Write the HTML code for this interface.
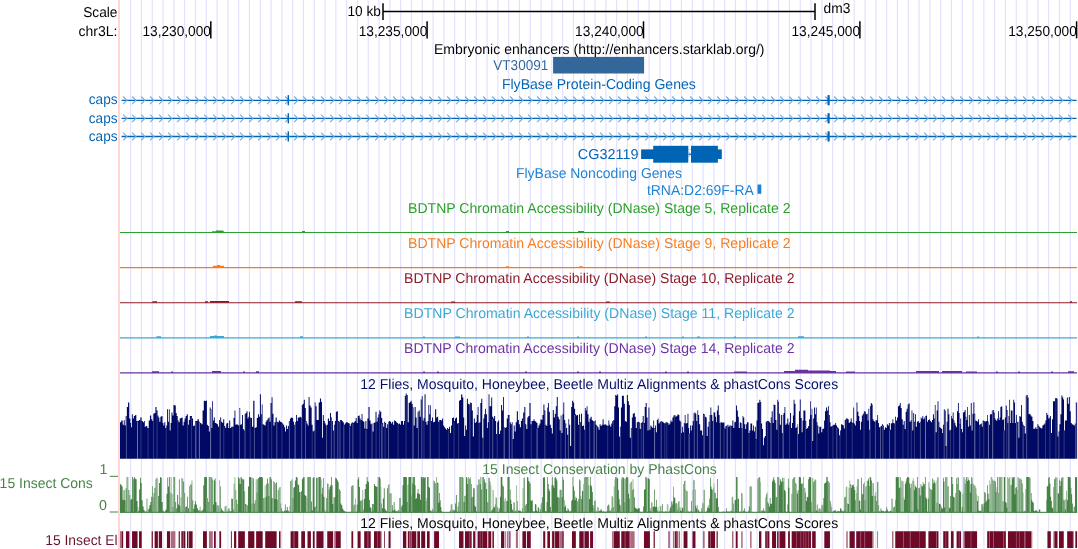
<!DOCTYPE html>
<html><head><meta charset="utf-8"><title>UCSC Genome Browser dm3 chr3L</title>
<style>html,body{margin:0;padding:0;background:#fff}svg{display:block}text{font-family:"Liberation Sans",sans-serif;font-size:14.3px}</style></head>
<body>
<svg width="1078" height="549" viewBox="0 0 1078 549">
<rect width="1078" height="549" fill="#fff"/>
<path d="M130.65 0V549M141.45 0V549M152.25 0V549M163.05 0V549M173.85 0V549M184.65 0V549M195.45 0V549M206.25 0V549M217.05 0V549M227.85 0V549M238.65 0V549M249.45 0V549M260.25 0V549M271.05 0V549M281.85 0V549M292.65 0V549M303.45 0V549M314.25 0V549M325.05 0V549M335.85 0V549M346.65 0V549M357.45 0V549M368.25 0V549M379.05 0V549M389.85 0V549M400.65 0V549M411.45 0V549M422.25 0V549M433.05 0V549M443.85 0V549M454.65 0V549M465.45 0V549M476.25 0V549M487.05 0V549M497.85 0V549M508.65 0V549M519.45 0V549M530.25 0V549M541.05 0V549M551.85 0V549M562.65 0V549M573.45 0V549M584.25 0V549M595.05 0V549M605.85 0V549M616.65 0V549M627.45 0V549M638.25 0V549M649.05 0V549M659.85 0V549M670.65 0V549M681.45 0V549M692.25 0V549M703.05 0V549M713.85 0V549M724.65 0V549M735.45 0V549M746.25 0V549M757.05 0V549M767.85 0V549M778.65 0V549M789.45 0V549M800.25 0V549M811.05 0V549M821.85 0V549M832.65 0V549M843.45 0V549M854.25 0V549M865.05 0V549M875.85 0V549M886.65 0V549M897.45 0V549M908.25 0V549M919.05 0V549M929.85 0V549M940.65 0V549M951.45 0V549M962.25 0V549M973.05 0V549M983.85 0V549M994.65 0V549M1005.45 0V549M1016.25 0V549M1027.05 0V549M1037.85 0V549M1048.65 0V549M1059.45 0V549M1070.25 0V549" stroke="#e2e2ff" stroke-width="1.2" fill="none"/>
<rect x="118" y="0" width="2" height="549" fill="#ffd5d5"/>
<path d="M383 3.2V20M815 3.2V20" stroke="#000" stroke-width="1.5" fill="none"/>
<path d="M383 11.4H815" stroke="#000" stroke-width="1.45" fill="none"/>
<path d="M210.8 21.3V38.4" stroke="#000" stroke-width="1.5" fill="none"/>
<path d="M427.1 21.3V38.4" stroke="#000" stroke-width="1.5" fill="none"/>
<path d="M643.5 21.3V38.4" stroke="#000" stroke-width="1.5" fill="none"/>
<path d="M859.9 21.3V38.4" stroke="#000" stroke-width="1.5" fill="none"/>
<path d="M1076.6 21.3V38.4" stroke="#000" stroke-width="1.5" fill="none"/>
<rect x="553.1" y="56.9" width="91" height="16.6" fill="#336699"/>
<path d="M121.6 100.3H1076.6" stroke="#0064b4" stroke-width="1.35" fill="none"/>
<path d="M123.15 96.50L126.85 100.30L123.15 104.10M132.15 96.50L135.85 100.30L132.15 104.10M141.15 96.50L144.85 100.30L141.15 104.10M150.15 96.50L153.85 100.30L150.15 104.10M159.15 96.50L162.85 100.30L159.15 104.10M168.15 96.50L171.85 100.30L168.15 104.10M177.15 96.50L180.85 100.30L177.15 104.10M186.15 96.50L189.85 100.30L186.15 104.10M195.15 96.50L198.85 100.30L195.15 104.10M204.15 96.50L207.85 100.30L204.15 104.10M213.15 96.50L216.85 100.30L213.15 104.10M222.15 96.50L225.85 100.30L222.15 104.10M231.15 96.50L234.85 100.30L231.15 104.10M240.15 96.50L243.85 100.30L240.15 104.10M249.15 96.50L252.85 100.30L249.15 104.10M258.15 96.50L261.85 100.30L258.15 104.10M267.15 96.50L270.85 100.30L267.15 104.10M276.15 96.50L279.85 100.30L276.15 104.10M285.15 96.50L288.85 100.30L285.15 104.10M294.15 96.50L297.85 100.30L294.15 104.10M303.15 96.50L306.85 100.30L303.15 104.10M312.15 96.50L315.85 100.30L312.15 104.10M321.15 96.50L324.85 100.30L321.15 104.10M330.15 96.50L333.85 100.30L330.15 104.10M339.15 96.50L342.85 100.30L339.15 104.10M348.15 96.50L351.85 100.30L348.15 104.10M357.15 96.50L360.85 100.30L357.15 104.10M366.15 96.50L369.85 100.30L366.15 104.10M375.15 96.50L378.85 100.30L375.15 104.10M384.15 96.50L387.85 100.30L384.15 104.10M393.15 96.50L396.85 100.30L393.15 104.10M402.15 96.50L405.85 100.30L402.15 104.10M411.15 96.50L414.85 100.30L411.15 104.10M420.15 96.50L423.85 100.30L420.15 104.10M429.15 96.50L432.85 100.30L429.15 104.10M438.15 96.50L441.85 100.30L438.15 104.10M447.15 96.50L450.85 100.30L447.15 104.10M456.15 96.50L459.85 100.30L456.15 104.10M465.15 96.50L468.85 100.30L465.15 104.10M474.15 96.50L477.85 100.30L474.15 104.10M483.15 96.50L486.85 100.30L483.15 104.10M492.15 96.50L495.85 100.30L492.15 104.10M501.15 96.50L504.85 100.30L501.15 104.10M510.15 96.50L513.85 100.30L510.15 104.10M519.15 96.50L522.85 100.30L519.15 104.10M528.15 96.50L531.85 100.30L528.15 104.10M537.15 96.50L540.85 100.30L537.15 104.10M546.15 96.50L549.85 100.30L546.15 104.10M555.15 96.50L558.85 100.30L555.15 104.10M564.15 96.50L567.85 100.30L564.15 104.10M573.15 96.50L576.85 100.30L573.15 104.10M582.15 96.50L585.85 100.30L582.15 104.10M591.15 96.50L594.85 100.30L591.15 104.10M600.15 96.50L603.85 100.30L600.15 104.10M609.15 96.50L612.85 100.30L609.15 104.10M618.15 96.50L621.85 100.30L618.15 104.10M627.15 96.50L630.85 100.30L627.15 104.10M636.15 96.50L639.85 100.30L636.15 104.10M645.15 96.50L648.85 100.30L645.15 104.10M654.15 96.50L657.85 100.30L654.15 104.10M663.15 96.50L666.85 100.30L663.15 104.10M672.15 96.50L675.85 100.30L672.15 104.10M681.15 96.50L684.85 100.30L681.15 104.10M690.15 96.50L693.85 100.30L690.15 104.10M699.15 96.50L702.85 100.30L699.15 104.10M708.15 96.50L711.85 100.30L708.15 104.10M717.15 96.50L720.85 100.30L717.15 104.10M726.15 96.50L729.85 100.30L726.15 104.10M735.15 96.50L738.85 100.30L735.15 104.10M744.15 96.50L747.85 100.30L744.15 104.10M753.15 96.50L756.85 100.30L753.15 104.10M762.15 96.50L765.85 100.30L762.15 104.10M771.15 96.50L774.85 100.30L771.15 104.10M780.15 96.50L783.85 100.30L780.15 104.10M789.15 96.50L792.85 100.30L789.15 104.10M798.15 96.50L801.85 100.30L798.15 104.10M807.15 96.50L810.85 100.30L807.15 104.10M816.15 96.50L819.85 100.30L816.15 104.10M825.15 96.50L828.85 100.30L825.15 104.10M834.15 96.50L837.85 100.30L834.15 104.10M843.15 96.50L846.85 100.30L843.15 104.10M852.15 96.50L855.85 100.30L852.15 104.10M861.15 96.50L864.85 100.30L861.15 104.10M870.15 96.50L873.85 100.30L870.15 104.10M879.15 96.50L882.85 100.30L879.15 104.10M888.15 96.50L891.85 100.30L888.15 104.10M897.15 96.50L900.85 100.30L897.15 104.10M906.15 96.50L909.85 100.30L906.15 104.10M915.15 96.50L918.85 100.30L915.15 104.10M924.15 96.50L927.85 100.30L924.15 104.10M933.15 96.50L936.85 100.30L933.15 104.10M942.15 96.50L945.85 100.30L942.15 104.10M951.15 96.50L954.85 100.30L951.15 104.10M960.15 96.50L963.85 100.30L960.15 104.10M969.15 96.50L972.85 100.30L969.15 104.10M978.15 96.50L981.85 100.30L978.15 104.10M987.15 96.50L990.85 100.30L987.15 104.10M996.15 96.50L999.85 100.30L996.15 104.10M1005.15 96.50L1008.85 100.30L1005.15 104.10M1014.15 96.50L1017.85 100.30L1014.15 104.10M1023.15 96.50L1026.85 100.30L1023.15 104.10M1032.15 96.50L1035.85 100.30L1032.15 104.10M1041.15 96.50L1044.85 100.30L1041.15 104.10M1050.15 96.50L1053.85 100.30L1050.15 104.10M1059.15 96.50L1062.85 100.30L1059.15 104.10M1068.15 96.50L1071.85 100.30L1068.15 104.10" stroke="#78abd9" stroke-width="1.15" fill="none"/>
<rect x="287.6" y="95.1" width="1.4" height="10.2" fill="#0064b4"/>
<rect x="827.5" y="95.1" width="2.2" height="10.2" fill="#0064b4"/>
<path d="M121.6 118.4H1076.6" stroke="#0064b4" stroke-width="1.35" fill="none"/>
<path d="M123.15 114.60L126.85 118.40L123.15 122.20M132.15 114.60L135.85 118.40L132.15 122.20M141.15 114.60L144.85 118.40L141.15 122.20M150.15 114.60L153.85 118.40L150.15 122.20M159.15 114.60L162.85 118.40L159.15 122.20M168.15 114.60L171.85 118.40L168.15 122.20M177.15 114.60L180.85 118.40L177.15 122.20M186.15 114.60L189.85 118.40L186.15 122.20M195.15 114.60L198.85 118.40L195.15 122.20M204.15 114.60L207.85 118.40L204.15 122.20M213.15 114.60L216.85 118.40L213.15 122.20M222.15 114.60L225.85 118.40L222.15 122.20M231.15 114.60L234.85 118.40L231.15 122.20M240.15 114.60L243.85 118.40L240.15 122.20M249.15 114.60L252.85 118.40L249.15 122.20M258.15 114.60L261.85 118.40L258.15 122.20M267.15 114.60L270.85 118.40L267.15 122.20M276.15 114.60L279.85 118.40L276.15 122.20M285.15 114.60L288.85 118.40L285.15 122.20M294.15 114.60L297.85 118.40L294.15 122.20M303.15 114.60L306.85 118.40L303.15 122.20M312.15 114.60L315.85 118.40L312.15 122.20M321.15 114.60L324.85 118.40L321.15 122.20M330.15 114.60L333.85 118.40L330.15 122.20M339.15 114.60L342.85 118.40L339.15 122.20M348.15 114.60L351.85 118.40L348.15 122.20M357.15 114.60L360.85 118.40L357.15 122.20M366.15 114.60L369.85 118.40L366.15 122.20M375.15 114.60L378.85 118.40L375.15 122.20M384.15 114.60L387.85 118.40L384.15 122.20M393.15 114.60L396.85 118.40L393.15 122.20M402.15 114.60L405.85 118.40L402.15 122.20M411.15 114.60L414.85 118.40L411.15 122.20M420.15 114.60L423.85 118.40L420.15 122.20M429.15 114.60L432.85 118.40L429.15 122.20M438.15 114.60L441.85 118.40L438.15 122.20M447.15 114.60L450.85 118.40L447.15 122.20M456.15 114.60L459.85 118.40L456.15 122.20M465.15 114.60L468.85 118.40L465.15 122.20M474.15 114.60L477.85 118.40L474.15 122.20M483.15 114.60L486.85 118.40L483.15 122.20M492.15 114.60L495.85 118.40L492.15 122.20M501.15 114.60L504.85 118.40L501.15 122.20M510.15 114.60L513.85 118.40L510.15 122.20M519.15 114.60L522.85 118.40L519.15 122.20M528.15 114.60L531.85 118.40L528.15 122.20M537.15 114.60L540.85 118.40L537.15 122.20M546.15 114.60L549.85 118.40L546.15 122.20M555.15 114.60L558.85 118.40L555.15 122.20M564.15 114.60L567.85 118.40L564.15 122.20M573.15 114.60L576.85 118.40L573.15 122.20M582.15 114.60L585.85 118.40L582.15 122.20M591.15 114.60L594.85 118.40L591.15 122.20M600.15 114.60L603.85 118.40L600.15 122.20M609.15 114.60L612.85 118.40L609.15 122.20M618.15 114.60L621.85 118.40L618.15 122.20M627.15 114.60L630.85 118.40L627.15 122.20M636.15 114.60L639.85 118.40L636.15 122.20M645.15 114.60L648.85 118.40L645.15 122.20M654.15 114.60L657.85 118.40L654.15 122.20M663.15 114.60L666.85 118.40L663.15 122.20M672.15 114.60L675.85 118.40L672.15 122.20M681.15 114.60L684.85 118.40L681.15 122.20M690.15 114.60L693.85 118.40L690.15 122.20M699.15 114.60L702.85 118.40L699.15 122.20M708.15 114.60L711.85 118.40L708.15 122.20M717.15 114.60L720.85 118.40L717.15 122.20M726.15 114.60L729.85 118.40L726.15 122.20M735.15 114.60L738.85 118.40L735.15 122.20M744.15 114.60L747.85 118.40L744.15 122.20M753.15 114.60L756.85 118.40L753.15 122.20M762.15 114.60L765.85 118.40L762.15 122.20M771.15 114.60L774.85 118.40L771.15 122.20M780.15 114.60L783.85 118.40L780.15 122.20M789.15 114.60L792.85 118.40L789.15 122.20M798.15 114.60L801.85 118.40L798.15 122.20M807.15 114.60L810.85 118.40L807.15 122.20M816.15 114.60L819.85 118.40L816.15 122.20M825.15 114.60L828.85 118.40L825.15 122.20M834.15 114.60L837.85 118.40L834.15 122.20M843.15 114.60L846.85 118.40L843.15 122.20M852.15 114.60L855.85 118.40L852.15 122.20M861.15 114.60L864.85 118.40L861.15 122.20M870.15 114.60L873.85 118.40L870.15 122.20M879.15 114.60L882.85 118.40L879.15 122.20M888.15 114.60L891.85 118.40L888.15 122.20M897.15 114.60L900.85 118.40L897.15 122.20M906.15 114.60L909.85 118.40L906.15 122.20M915.15 114.60L918.85 118.40L915.15 122.20M924.15 114.60L927.85 118.40L924.15 122.20M933.15 114.60L936.85 118.40L933.15 122.20M942.15 114.60L945.85 118.40L942.15 122.20M951.15 114.60L954.85 118.40L951.15 122.20M960.15 114.60L963.85 118.40L960.15 122.20M969.15 114.60L972.85 118.40L969.15 122.20M978.15 114.60L981.85 118.40L978.15 122.20M987.15 114.60L990.85 118.40L987.15 122.20M996.15 114.60L999.85 118.40L996.15 122.20M1005.15 114.60L1008.85 118.40L1005.15 122.20M1014.15 114.60L1017.85 118.40L1014.15 122.20M1023.15 114.60L1026.85 118.40L1023.15 122.20M1032.15 114.60L1035.85 118.40L1032.15 122.20M1041.15 114.60L1044.85 118.40L1041.15 122.20M1050.15 114.60L1053.85 118.40L1050.15 122.20M1059.15 114.60L1062.85 118.40L1059.15 122.20M1068.15 114.60L1071.85 118.40L1068.15 122.20" stroke="#78abd9" stroke-width="1.15" fill="none"/>
<rect x="287.6" y="113.2" width="1.4" height="10.2" fill="#0064b4"/>
<rect x="827.5" y="113.2" width="2.2" height="10.2" fill="#0064b4"/>
<path d="M121.6 136.5H1076.6" stroke="#0064b4" stroke-width="1.35" fill="none"/>
<path d="M123.15 132.70L126.85 136.50L123.15 140.30M132.15 132.70L135.85 136.50L132.15 140.30M141.15 132.70L144.85 136.50L141.15 140.30M150.15 132.70L153.85 136.50L150.15 140.30M159.15 132.70L162.85 136.50L159.15 140.30M168.15 132.70L171.85 136.50L168.15 140.30M177.15 132.70L180.85 136.50L177.15 140.30M186.15 132.70L189.85 136.50L186.15 140.30M195.15 132.70L198.85 136.50L195.15 140.30M204.15 132.70L207.85 136.50L204.15 140.30M213.15 132.70L216.85 136.50L213.15 140.30M222.15 132.70L225.85 136.50L222.15 140.30M231.15 132.70L234.85 136.50L231.15 140.30M240.15 132.70L243.85 136.50L240.15 140.30M249.15 132.70L252.85 136.50L249.15 140.30M258.15 132.70L261.85 136.50L258.15 140.30M267.15 132.70L270.85 136.50L267.15 140.30M276.15 132.70L279.85 136.50L276.15 140.30M285.15 132.70L288.85 136.50L285.15 140.30M294.15 132.70L297.85 136.50L294.15 140.30M303.15 132.70L306.85 136.50L303.15 140.30M312.15 132.70L315.85 136.50L312.15 140.30M321.15 132.70L324.85 136.50L321.15 140.30M330.15 132.70L333.85 136.50L330.15 140.30M339.15 132.70L342.85 136.50L339.15 140.30M348.15 132.70L351.85 136.50L348.15 140.30M357.15 132.70L360.85 136.50L357.15 140.30M366.15 132.70L369.85 136.50L366.15 140.30M375.15 132.70L378.85 136.50L375.15 140.30M384.15 132.70L387.85 136.50L384.15 140.30M393.15 132.70L396.85 136.50L393.15 140.30M402.15 132.70L405.85 136.50L402.15 140.30M411.15 132.70L414.85 136.50L411.15 140.30M420.15 132.70L423.85 136.50L420.15 140.30M429.15 132.70L432.85 136.50L429.15 140.30M438.15 132.70L441.85 136.50L438.15 140.30M447.15 132.70L450.85 136.50L447.15 140.30M456.15 132.70L459.85 136.50L456.15 140.30M465.15 132.70L468.85 136.50L465.15 140.30M474.15 132.70L477.85 136.50L474.15 140.30M483.15 132.70L486.85 136.50L483.15 140.30M492.15 132.70L495.85 136.50L492.15 140.30M501.15 132.70L504.85 136.50L501.15 140.30M510.15 132.70L513.85 136.50L510.15 140.30M519.15 132.70L522.85 136.50L519.15 140.30M528.15 132.70L531.85 136.50L528.15 140.30M537.15 132.70L540.85 136.50L537.15 140.30M546.15 132.70L549.85 136.50L546.15 140.30M555.15 132.70L558.85 136.50L555.15 140.30M564.15 132.70L567.85 136.50L564.15 140.30M573.15 132.70L576.85 136.50L573.15 140.30M582.15 132.70L585.85 136.50L582.15 140.30M591.15 132.70L594.85 136.50L591.15 140.30M600.15 132.70L603.85 136.50L600.15 140.30M609.15 132.70L612.85 136.50L609.15 140.30M618.15 132.70L621.85 136.50L618.15 140.30M627.15 132.70L630.85 136.50L627.15 140.30M636.15 132.70L639.85 136.50L636.15 140.30M645.15 132.70L648.85 136.50L645.15 140.30M654.15 132.70L657.85 136.50L654.15 140.30M663.15 132.70L666.85 136.50L663.15 140.30M672.15 132.70L675.85 136.50L672.15 140.30M681.15 132.70L684.85 136.50L681.15 140.30M690.15 132.70L693.85 136.50L690.15 140.30M699.15 132.70L702.85 136.50L699.15 140.30M708.15 132.70L711.85 136.50L708.15 140.30M717.15 132.70L720.85 136.50L717.15 140.30M726.15 132.70L729.85 136.50L726.15 140.30M735.15 132.70L738.85 136.50L735.15 140.30M744.15 132.70L747.85 136.50L744.15 140.30M753.15 132.70L756.85 136.50L753.15 140.30M762.15 132.70L765.85 136.50L762.15 140.30M771.15 132.70L774.85 136.50L771.15 140.30M780.15 132.70L783.85 136.50L780.15 140.30M789.15 132.70L792.85 136.50L789.15 140.30M798.15 132.70L801.85 136.50L798.15 140.30M807.15 132.70L810.85 136.50L807.15 140.30M816.15 132.70L819.85 136.50L816.15 140.30M825.15 132.70L828.85 136.50L825.15 140.30M834.15 132.70L837.85 136.50L834.15 140.30M843.15 132.70L846.85 136.50L843.15 140.30M852.15 132.70L855.85 136.50L852.15 140.30M861.15 132.70L864.85 136.50L861.15 140.30M870.15 132.70L873.85 136.50L870.15 140.30M879.15 132.70L882.85 136.50L879.15 140.30M888.15 132.70L891.85 136.50L888.15 140.30M897.15 132.70L900.85 136.50L897.15 140.30M906.15 132.70L909.85 136.50L906.15 140.30M915.15 132.70L918.85 136.50L915.15 140.30M924.15 132.70L927.85 136.50L924.15 140.30M933.15 132.70L936.85 136.50L933.15 140.30M942.15 132.70L945.85 136.50L942.15 140.30M951.15 132.70L954.85 136.50L951.15 140.30M960.15 132.70L963.85 136.50L960.15 140.30M969.15 132.70L972.85 136.50L969.15 140.30M978.15 132.70L981.85 136.50L978.15 140.30M987.15 132.70L990.85 136.50L987.15 140.30M996.15 132.70L999.85 136.50L996.15 140.30M1005.15 132.70L1008.85 136.50L1005.15 140.30M1014.15 132.70L1017.85 136.50L1014.15 140.30M1023.15 132.70L1026.85 136.50L1023.15 140.30M1032.15 132.70L1035.85 136.50L1032.15 140.30M1041.15 132.70L1044.85 136.50L1041.15 140.30M1050.15 132.70L1053.85 136.50L1050.15 140.30M1059.15 132.70L1062.85 136.50L1059.15 140.30M1068.15 132.70L1071.85 136.50L1068.15 140.30" stroke="#78abd9" stroke-width="1.15" fill="none"/>
<rect x="287.6" y="131.3" width="1.4" height="10.2" fill="#0064b4"/>
<rect x="827.5" y="131.3" width="2.2" height="10.2" fill="#0064b4"/>
<rect x="641.1" y="149.4" width="80.7" height="9.6" fill="#0064b4"/>
<rect x="653.2" y="145.8" width="35.1" height="16.9" fill="#0064b4"/>
<rect x="691" y="145.8" width="26.9" height="16.9" fill="#0064b4"/>
<rect x="688.3" y="149.4" width="2.7" height="9.6" fill="#fff"/>
<path d="M688.3 154.3H691" stroke="#0064b4" stroke-width="1.2"/>
<path d="M688.4 151.5L690.6 154.3L688.4 157.1" stroke="#0064b4" stroke-opacity="0.5" stroke-width="0.9" fill="none"/>
<rect x="757.5" y="184.5" width="3.8" height="9.3" fill="#1e82d2"/>
<path d="M120 232.5H1077" stroke="#2ca02c" stroke-width="1.15" fill="none"/>
<path d="M212 232.5V231.3H224V232.5ZM216 232.5V230.5H223.2V232.5ZM302 232.5V231.0H305V232.5ZM506 232.5V231.0H509V232.5ZM578 232.5V231.0H584V232.5Z" fill="#2ca02c"/>
<path d="M120 267.6H1077" stroke="#f97c1c" stroke-width="1.15" fill="none"/>
<path d="M213 267.6V265.70000000000005H224V267.6ZM217 267.6V265.1H220V267.6ZM506 267.6V266.3H509V267.6ZM579 267.6V266.3H583V267.6Z" fill="#f97c1c"/>
<path d="M120 302.7H1077" stroke="#8c1a26" stroke-width="1.15" fill="none"/>
<path d="M152.4 302.7V301.2H157V302.7ZM205 302.7V301.2H208V302.7ZM210 302.7V301.0H229V302.7ZM295 302.7V301.2H302V302.7ZM451 302.7V301.4H455V302.7ZM606 302.7V301.4H610V302.7ZM1070 302.7V301.2H1072V302.7Z" fill="#8c1a26"/>
<path d="M120 337.9H1077" stroke="#3aa8d2" stroke-width="1.15" fill="none"/>
<path d="M156.4 337.9V336.2H161V337.9ZM210 337.9V336.09999999999997H224V337.9ZM214 337.9V335.4H217V337.9ZM300 337.9V336.2H303V337.9ZM423 337.9V336.59999999999997H425V337.9ZM455 337.9V336.4H460V337.9ZM527 337.9V336.59999999999997H529V337.9ZM577 337.9V336.59999999999997H579V337.9ZM645 337.9V336.59999999999997H647V337.9ZM682 337.9V336.59999999999997H684V337.9ZM697 337.9V336.4H700V337.9ZM734 337.9V336.59999999999997H736V337.9ZM798 337.9V336.2H804V337.9ZM977 337.9V336.4H979V337.9Z" fill="#3aa8d2"/>
<path d="M120 372.9H1077" stroke="#6a32a0" stroke-width="1.15" fill="none"/>
<path d="M152 372.9V371.2H159V372.9ZM171 372.9V371.4H173V372.9ZM212 372.9V370.9H221V372.9ZM243 372.9V371.4H245V372.9ZM256 372.9V371.2H259V372.9ZM423 372.9V371.59999999999997H425V372.9ZM437 372.9V371.59999999999997H439V372.9ZM525 372.9V371.59999999999997H527V372.9ZM577 372.9V371.59999999999997H579V372.9ZM599 372.9V371.59999999999997H601V372.9ZM665 372.9V371.59999999999997H667V372.9ZM687 372.9V371.59999999999997H689V372.9ZM734 372.9V371.4H747V372.9ZM784 372.9V370.9H836V372.9ZM795 372.9V369.79999999999995H808V372.9ZM808 372.9V370.4H830V372.9ZM846 372.9V371.4H855V372.9ZM916 372.9V371.0H939V372.9ZM942 372.9V371.0H962V372.9ZM966 372.9V371.4H977V372.9ZM996 372.9V371.4H998V372.9ZM1018 372.9V371.4H1020V372.9ZM1051 372.9V371.4H1053V372.9ZM1068 372.9V371.2H1074V372.9Z" fill="#6a32a0"/>
<path d="M120.00 458.85V422.3H121.17V420.5H122.71V424.8H123.77V420.2H124.70V425.4H125.69V416.1H126.80V406.9H128.04V402.5H129.28V418.6H130.33V423.0H131.07V427.3H131.88V414.3H132.80V418.6H133.86V416.1H135.10V414.9H136.33V421.1H137.57V421.1H138.81V419.9H140.23V417.4H141.66V421.1H142.90V422.3H143.95V421.1H144.81V426.7H145.87V426.0H147.29V427.9H148.71V420.5H149.95V415.5H151.19V419.2H152.24V421.1H153.17V413.7H154.29V413.0H155.40V406.9H156.51V410.6H157.57V415.5H158.43V417.4H159.36V421.7H160.35V416.8H161.47V416.1H162.52V423.0H163.39V425.4H164.31V422.3H165.30V427.9H166.23V425.4H167.10V409.3H168.03V421.7H168.89V409.3H169.70V430.4H170.57V423.0H171.49V412.4H172.49V415.5H173.48V405.0H174.65V405.6H175.77V413.0H176.69V416.1H177.69V420.5H178.68V422.3H179.67V418.6H180.66V418.0H181.65V417.4H182.64V425.4H183.63V421.7H184.62V418.6H185.61V416.1H186.72V414.3H187.84V424.8H188.83V419.9H189.82V416.1H190.93V416.1H192.05V418.6H193.04V426.0H194.03V425.4H195.02V421.1H196.13V421.1H197.49V419.2H198.86V421.7H200.09V423.0H201.33V424.2H202.57V410.6H203.81V400.7H205.05V400.9H206.04V400.4H206.90V424.8H207.89V426.0H208.88V431.6H209.75V407.5H210.62V409.3H211.48V427.9H212.23V401.3H213.03V420.5H213.90V417.4H214.83V423.0H215.94V423.6H217.06V424.2H218.05V426.7H219.04V419.9H220.03V417.4H221.14V421.7H222.26V423.0H223.18V419.2H224.24V426.0H225.29V427.9H226.22V423.6H227.21V423.0H228.20V427.9H229.19V420.5H230.18V427.9H231.17V426.7H232.28V426.7H233.52V418.0H234.51V410.6H235.38V424.8H236.37V424.2H237.36V424.8H238.35V425.4H239.28V408.1H240.21V424.8H241.14V424.2H242.00V414.9H242.93V429.1H243.86V430.4H244.67V414.3H245.53V413.0H246.52V411.2H247.51V418.6H248.38V416.8H249.06V411.8H249.93V417.4H250.98V418.0H251.97V426.7H253.21V400.7H254.45V427.9H255.56V427.3H256.80V418.0H257.91V414.3H258.90V416.8H259.90V394.2H260.89V414.3H261.75V404.4H262.62V424.2H263.61V424.8H264.60V425.4H265.59V421.7H266.58V419.9H267.63V418.6H268.69V417.4H269.61V421.7H270.54V403.1H271.53V397.2H272.52V413.7H273.51V425.4H274.50V422.3H275.62V417.4H276.73V421.7H277.72V422.3H278.84V420.5H280.01V421.7H281.07V422.3H282.12V423.6H283.17V424.8H284.16V427.3H285.09V431.6H285.96V425.4H286.89V429.1H287.88V426.0H288.87V421.1H289.92V418.6H291.09V417.4H292.21V418.0H293.14V421.7H294.07V424.8H295.06V422.3H295.99V414.9H296.85V421.1H297.78V417.4H298.77V417.4H299.76V416.8H300.75V417.4H301.74V405.0H302.73V403.8H303.79V399.7H304.84V408.1H305.77V421.1H306.69V423.6H307.69V425.4H308.61V397.0H309.54V405.6H310.59V407.5H311.65V424.8H312.64V431.6H313.63V430.4H314.62V402.5H315.61V406.2H316.60V419.9H317.59V419.9H318.70V402.5H319.94V398.4H321.06V401.9H321.99V437.8H322.85V414.9H323.78V421.1H324.77V423.6H325.76V425.4H326.75V424.8H327.87V418.6H328.98V421.1H329.97V413.0H330.96V417.4H331.95V421.1H332.94V430.4H333.93V424.8H334.92V421.1H335.91V411.8H336.90V411.2H337.89V421.1H338.88V421.7H339.88V419.9H340.87V419.9H341.86V421.1H342.85V422.3H343.84V424.8H344.83V423.6H345.82V422.3H346.81V422.3H347.80V423.0H348.79V423.6H349.78V426.0H350.77V423.6H351.76V422.3H352.75V423.0H353.74V422.3H354.73V421.1H355.72V418.0H356.71V423.0H357.70V416.1H358.69V415.5H359.68V418.6H360.68V419.9H361.60V414.0H362.47V421.1H363.40V421.7H364.39V428.5H365.38V421.1H366.37V429.1H367.36V418.6H368.48V406.9H369.59V420.5H370.58V424.2H371.57V423.6H372.56V431.6H373.55V423.0H374.54V422.3H375.53V411.8H376.52V421.7H377.51V417.4H378.38V414.3H379.19V410.6H380.18V411.8H381.23V418.0H382.22V423.0H383.21V426.7H384.20V421.7H385.19V423.0H386.18V427.9H387.17V424.2H388.16V421.7H389.15V421.1H390.14V421.7H391.13V423.6H392.12V421.7H393.11V424.8H394.10V420.5H395.10V421.1H396.09V422.3H397.08V423.0H398.07V424.2H399.06V423.6H400.05V424.8H401.04V421.1H402.03V421.1H403.02V424.8H403.95V421.1H404.81V395.7H405.74V393.5H406.73V395.1H407.72V422.3H408.71V403.1H409.70V401.9H410.69V400.7H411.69V403.8H412.68V407.5H413.67V425.4H414.66V406.9H415.65V417.4H416.64V427.9H417.63V411.8H418.68V410.6H419.73V416.8H420.72V399.4H421.71V396.3H422.70V420.5H423.63V418.0H424.56V394.2H425.55V421.7H426.54V424.8H427.53V421.1H428.40V405.0H429.27V414.3H430.13V405.6H431.00V421.1H431.99V417.4H432.98V422.3H433.97V421.7H435.09V409.3H436.20V417.4H437.19V416.8H438.18V421.7H439.17V419.9H440.16V419.9H441.15V420.5H442.14V418.6H443.13V425.4H444.12V427.3H445.11V428.5H446.10V429.8H447.09V427.9H448.09V429.1H449.08V426.7H450.07V432.9H451.06V425.4H452.05V418.0H453.04V417.4H454.03V421.1H455.02V418.6H456.01V417.4H457.00V423.6H457.99V423.0H458.98V400.7H459.97V400.0H461.08V394.5H462.32V397.6H463.31V417.4H464.18V436.0H465.17V425.4H466.04V429.8H466.90V398.8H467.89V403.8H468.88V404.4H469.88V402.5H470.87V403.1H471.86V410.6H472.85V436.6H473.84V418.6H474.83V423.0H475.82V421.7H476.81V414.9H477.68V406.9H478.54V423.0H479.47V422.3H480.34V403.1H481.27V398.8H482.26V437.8H483.25V418.6H484.24V414.3H485.10V408.7H485.97V414.3H486.96V427.9H487.83V422.3H488.57V394.2H489.44V406.2H490.37V406.2H491.23V397.6H492.16V416.8H493.15V418.6H494.14V416.1H495.13V421.1H496.12V434.1H497.11V422.3H498.10V420.5H499.09V434.1H500.08V430.4H501.08V405.0H502.07V410.6H502.99V397.0H503.86V427.3H504.79V427.9H505.78V427.3H506.77V418.6H507.76V414.9H508.81V414.9H509.80V422.3H510.73V424.2H511.72V422.3H512.71V439.0H513.70V425.4H514.70V431.6H515.69V422.3H516.80V411.2H517.91V419.9H518.90V424.2H519.90V427.3H520.89V421.1H521.88V418.6H522.99V412.4H524.23V406.9H525.34V424.2H526.33V429.1H527.32V417.4H528.31V416.1H529.43V403.1H530.54V424.2H531.53V421.1H532.52V421.1H533.51V419.2H534.50V421.1H535.49V421.7H536.49V423.0H537.48V427.9H538.47V425.4H539.46V423.6H540.45V419.2H541.44V419.9H542.43V414.9H543.42V404.4H544.41V410.6H545.40V424.8H546.39V426.0H547.26V407.5H548.00V403.1H548.87V411.8H549.86V424.8H550.85V427.9H551.84V433.5H552.83V410.0H553.82V417.4H554.81V413.7H555.80V406.2H556.79V397.0H557.78V416.8H558.77V419.2H559.76V430.4H560.63V415.5H561.49V432.9H562.49V414.3H563.35V402.5H564.22V419.9H565.21V423.6H566.20V427.9H567.19V434.7H568.18V419.2H569.17V424.8H570.16V445.9H571.15V406.9H572.14V400.7H573.13V402.5H574.12V408.7H575.11V414.3H576.10V415.5H577.09V414.9H578.09V424.8H579.08V414.3H580.07V422.3H581.06V413.7H582.05V426.0H583.04V425.4H584.03V429.8H584.89V408.1H585.76V410.6H586.63V406.2H587.49V414.3H588.48V421.7H589.48V418.6H590.59V416.8H591.70V419.9H592.69V421.1H593.68V421.7H594.68V420.5H595.67V424.8H596.66V426.0H597.65V427.3H598.64V429.8H599.63V424.2H600.62V426.0H601.61V424.8H602.60V419.2H603.59V424.8H604.58V424.2H605.57V424.8H606.56V425.4H607.55V426.0H608.42V420.5H609.28V424.8H610.28V426.7H611.27V423.6H612.26V421.1H613.25V419.9H614.24V406.2H615.23V395.1H616.22V395.7H617.21V394.2H618.14V407.5H619.00V436.6H619.93V426.7H620.92V407.5H621.91V395.7H622.90V395.7H623.89V403.8H624.88V421.1H625.88V421.7H626.87V395.1H627.86V401.3H628.85V405.0H629.84V437.8H630.83V427.9H631.82V417.4H632.81V413.7H633.80V413.0H634.79V416.8H635.78V427.9H636.77V422.3H637.76V421.7H638.81V422.3H639.80V429.1H640.73V423.0H641.72V422.3H642.71V416.1H643.70V423.0H644.70V406.9H645.69V403.1H646.68V417.4H647.60V430.4H648.47V407.5H649.40V429.8H650.39V425.4H651.38V426.7H652.37V427.9H653.24V420.5H654.10V427.9H655.10V425.4H655.96V432.2H656.83V419.9H657.70V418.6H658.56V423.6H659.55V422.3H660.54V421.1H661.53V421.7H662.52V421.7H663.51V423.0H664.50V423.6H665.49V422.3H666.49V422.3H667.48V423.0H668.47V424.8H669.46V423.6H670.45V420.5H671.44V421.7H672.43V417.4H673.42V415.5H674.41V414.9H675.40V416.8H676.39V416.1H677.38V414.3H678.37V414.9H679.36V420.5H680.35V421.7H681.22V432.9H681.96V426.7H682.83V432.2H683.82V423.0H684.69V414.9H685.55V423.6H686.54V423.0H687.53V413.7H688.40V427.9H689.14V433.5H690.01V425.4H690.88V430.4H691.74V425.4H692.73V421.1H693.60V413.0H694.47V412.4H695.46V413.7H696.32V421.1H697.19V410.6H698.18V414.9H699.17V424.2H700.16V430.4H701.15V430.4H702.14V435.3H703.01V413.7H703.88V414.3H704.87V416.8H705.86V417.4H706.72V436.0H707.59V426.7H708.58V421.7H709.45V414.9H710.31V407.5H711.30V414.9H712.29V421.1H713.29V412.4H714.28V412.4H715.27V416.8H716.13V422.3H716.88V410.6H717.74V405.6H718.73V414.9H719.60V423.0H720.47V422.3H721.46V422.3H722.45V423.0H723.44V422.3H724.43V428.5H725.42V426.0H726.41V425.4H727.40V424.8H728.39V426.7H729.38V425.4H730.37V425.4H731.36V426.0H732.35V420.5H733.34V427.9H734.33V422.3H735.20V421.7H736.00V405.6H736.93V410.6H737.86V416.8H738.79V427.9H739.78V422.3H740.77V423.0H741.64V427.9H742.38V416.1H743.25V417.4H744.24V424.2H745.23V429.1H746.09V424.2H746.96V422.3H747.83V422.3H748.57V432.9H749.44V430.4H750.43V423.6H751.29V423.6H752.16V430.4H753.15V425.4H754.02V431.6H754.88V426.7H755.75V439.0H756.49V420.5H757.36V403.1H758.35V402.5H759.34V399.7H760.33V401.9H761.20V423.6H762.07V429.1H762.99V445.2H763.86V437.8H764.79V436.0H765.78V421.7H766.77V421.1H767.76V421.1H768.81V421.7H769.80V423.0H770.73V417.4H771.72V411.2H772.71V423.0H773.58V404.4H774.45V405.0H775.44V419.9H776.43V429.8H777.30V399.7H778.16V401.9H779.03V413.7H779.90V424.8H780.89V414.9H781.88V432.9H782.74V414.9H783.61V413.0H784.48V406.9H785.34V424.8H786.33V423.6H787.32V418.6H788.31V424.8H789.18V422.3H790.05V413.0H791.04V427.9H792.03V423.0H792.90V415.5H793.64V399.7H794.50V403.8H795.49V427.9H796.49V426.7H797.35V424.2H798.09V434.1H798.96V411.2H799.83V399.4H800.69V418.0H801.69V432.2H802.55V420.5H803.42V410.6H804.41V410.6H805.40V421.1H806.27V429.1H807.13V427.9H808.12V426.0H809.11V419.2H809.98V401.3H810.72V414.9H811.53V408.7H812.33V440.9H813.14V418.6H814.07V407.5H814.99V414.3H815.86V407.5H816.67V422.3H817.47V425.4H818.34V433.5H819.27V426.7H820.26V426.7H821.25V432.2H822.24V429.1H823.23V428.5H824.09V420.5H824.96V411.2H825.95V407.5H826.94V410.6H827.93V406.2H828.92V414.9H829.79V422.3H830.53V426.7H831.40V426.0H832.39V425.4H833.38V424.8H834.37V424.8H835.24V423.0H836.10V425.4H837.09V427.3H838.09V428.5H839.08V435.3H840.07V430.4H841.06V424.2H842.05V424.8H843.04V425.4H843.90V428.5H844.77V419.9H845.76V418.6H846.75V418.6H847.74V419.2H848.73V423.0H849.72V421.7H850.71V418.6H851.70V422.3H852.57V423.0H853.31V407.5H854.06V423.6H854.92V425.4H855.79V421.1H856.53V402.5H857.40V411.8H858.39V416.1H859.26V421.1H860.00V429.8H860.87V421.7H861.86V415.5H862.85V413.7H863.84V411.2H864.83V411.8H865.82V414.3H866.81V413.7H867.68V420.5H868.42V408.7H869.16V429.8H869.90V406.2H870.77V403.1H871.76V404.4H872.63V419.2H873.49V421.1H874.48V421.7H875.48V420.5H876.47V419.9H877.33V414.9H878.08V423.0H878.94V427.3H879.93V426.7H880.92V426.0H881.91V424.2H882.90V425.4H883.89V429.8H884.88V427.3H885.88V427.9H886.87V424.2H887.86V425.4H888.85V423.0H889.84V429.8H890.83V423.6H891.69V423.0H892.44V419.2H893.30V423.0H894.17V423.6H895.04V416.8H896.03V420.5H897.02V417.4H898.01V406.2H898.94V405.6H899.80V403.1H900.73V408.1H901.72V419.2H902.71V424.8H903.70V421.1H904.70V429.1H905.69V411.8H906.68V408.7H907.67V404.4H908.66V403.4H909.65V421.7H910.64V420.5H911.50V410.6H912.37V430.4H913.24V413.0H914.10V421.7H914.97V414.3H915.84V426.7H916.83V421.7H917.82V421.1H918.81V423.0H919.80V421.7H920.67V417.4H921.53V418.6H922.40V416.1H923.27V419.2H924.26V417.4H925.25V416.1H926.11V415.5H926.98V421.7H927.97V419.9H928.96V419.2H929.95V421.1H930.94V422.3H931.93V419.9H932.92V414.3H933.91V418.6H934.78V405.0H935.65V432.2H936.64V410.6H937.57V401.3H938.43V421.7H939.36V427.3H940.35V427.9H941.34V429.1H942.21V432.9H942.95V424.8H943.82V409.3H944.81V410.6H945.68V445.9H946.54V421.7H947.53V408.7H948.52V414.3H949.39V430.4H950.26V429.8H951.12V416.1H951.87V418.6H952.73V412.4H953.60V420.5H954.47V423.0H955.33V425.4H956.14V427.3H957.00V411.2H957.93V403.1H958.80V413.0H959.54V424.2H960.29V418.6H961.15V429.1H962.14V432.2H963.01V412.4H963.88V411.8H964.74V410.0H965.61V416.8H966.48V419.9H967.22V406.9H967.96V426.7H968.83V414.9H969.82V425.4H970.81V403.1H971.68V430.4H972.48V413.7H973.41V402.2H974.34V413.7H975.27V420.5H976.26V421.1H977.25V421.7H978.11V419.2H978.98V424.8H979.97V424.2H980.96V423.6H981.83V426.7H982.69V420.5H983.68V421.1H984.68V421.7H985.67V421.1H986.53V421.1H987.28V414.9H988.02V421.7H988.88V424.8H989.88V414.3H990.87V414.3H991.86V410.6H992.85V410.0H993.84V412.4H994.70V418.6H995.57V419.9H996.44V421.1H997.18V418.6H997.98V411.2H998.85V419.9H999.66V417.4H1000.40V406.9H1001.27V406.2H1002.26V419.9H1003.25V419.2H1004.11V430.4H1004.86V417.4H1005.72V405.6H1006.71V410.0H1007.58V423.0H1008.32V416.1H1009.19V399.7H1010.06V423.0H1010.80V410.6H1011.67V410.6H1012.53V423.0H1013.28V399.7H1014.14V402.5H1015.01V423.0H1015.88V414.9H1016.80V422.3H1017.67V421.7H1018.48V437.8H1019.34V416.1H1020.21V416.8H1021.08V405.0H1021.94V421.7H1022.81V424.8H1023.80V426.0H1024.79V433.5H1025.78V395.5H1026.77V395.1H1027.76V397.6H1028.61V414.3H1029.47V413.7H1030.46V415.5H1031.45V416.8H1032.44V421.1H1033.43V429.1H1034.42V428.5H1035.41V427.3H1036.40V429.1H1037.39V424.2H1038.38V426.0H1039.37V427.3H1040.36V427.9H1041.35V428.5H1042.34V425.4H1043.33V424.8H1044.32V423.6H1045.31V420.5H1046.30V413.0H1047.29V414.9H1048.28V418.6H1049.28V417.4H1050.14V416.1H1051.01V432.9H1052.00V419.2H1052.99V401.3H1053.98V401.3H1054.97V398.2H1055.96V397.9H1056.83V398.8H1057.57V436.6H1058.44V431.6H1059.43V424.2H1060.42V414.3H1061.41V395.5H1062.40V397.6H1063.27V399.4H1064.01V430.4H1064.88V420.5H1065.87V420.5H1066.86V397.6H1067.85V403.8H1068.84V397.0H1069.83V411.2H1070.82V423.0H1071.81V424.2H1072.80V424.8H1073.79V425.4H1074.78V423.6H1075.77V402.5H1076.64V402.5H1077.10V458.85Z" fill="#000a64"/>
<path d="M140.9 417.9V458.85M148.1 428.4V458.85M153.5 414.2V458.85M157.0 411.1V458.85M166.2 425.9V458.85M177.8 421.0V458.85M187.4 425.3V458.85M191.4 416.6V458.85M223.8 426.5V458.85M232.8 427.2V458.85M250.3 417.9V458.85M268.2 419.1V458.85M271.7 397.7V458.85M281.9 424.1V458.85M312.2 432.1V458.85M360.1 419.1V458.85M376.1 422.2V458.85M379.4 411.1V458.85M385.1 423.5V458.85M398.1 424.7V458.85M406.1 394.0V458.85M424.0 418.5V458.85M439.2 420.4V458.85M448.4 429.6V458.85M454.0 421.6V458.85M458.6 401.2V458.85M479.2 422.8V458.85M489.6 406.7V458.85M497.2 422.8V458.85M531.3 421.6V458.85M556.1 406.7V458.85M560.9 416.0V458.85M585.2 408.6V458.85M607.7 426.5V458.85M613.5 420.4V458.85M638.1 422.2V458.85M641.3 422.8V458.85M664.8 424.1V458.85M666.8 422.8V458.85M674.6 415.4V458.85M680.5 422.2V458.85M684.6 415.4V458.85M724.0 429.0V458.85M749.0 430.9V458.85M756.1 439.5V458.85M760.1 402.4V458.85M767.6 421.6V458.85M778.6 402.4V458.85M789.6 413.5V458.85M805.4 421.6V458.85M811.5 409.2V458.85M816.9 422.8V458.85M828.2 406.7V458.85M832.9 425.9V458.85M840.1 430.9V458.85M846.3 419.1V458.85M852.2 422.8V458.85M864.0 411.7V458.85M903.0 425.3V458.85M908.0 404.9V458.85M911.3 411.1V458.85M914.5 422.2V458.85M938.3 422.2V458.85M950.4 430.3V458.85M953.7 421.0V458.85M979.7 424.7V458.85M983.8 421.6V458.85M1006.8 410.5V458.85M1045.5 421.0V458.85M1049.9 416.6V458.85M1055.9 398.4V458.85M1064.1 430.9V458.85" stroke="#fff" stroke-opacity="0.18" stroke-width="1" fill="none"/>
<path d="M126.4 407.4V458.85M220.2 417.9V458.85M239.5 408.6V458.85M245.0 414.8V458.85M254.4 428.4V458.85M261.9 404.9V458.85M276.8 422.2V458.85M289.4 419.1V458.85M301.7 405.5V458.85M305.5 421.6V458.85M315.0 403.0V458.85M326.6 425.3V458.85M331.3 417.9V458.85M334.2 425.3V458.85M337.8 421.6V458.85M340.0 420.4V458.85M343.8 425.3V458.85M349.7 426.5V458.85M352.9 423.5V458.85M366.0 429.6V458.85M372.0 424.1V458.85M388.5 422.2V458.85M418.4 411.1V458.85M421.8 396.8V458.85M430.2 406.1V458.85M469.9 403.0V458.85M483.1 419.1V458.85M492.7 419.1V458.85M512.1 422.8V458.85M523.9 407.4V458.85M544.9 411.1V458.85M565.4 424.1V458.85M568.4 419.7V458.85M580.1 422.8V458.85M589.7 419.1V458.85M596.6 426.5V458.85M620.4 427.2V458.85M631.7 417.9V458.85M643.4 423.5V458.85M661.2 422.2V458.85M694.3 412.9V458.85M697.4 411.1V458.85M720.4 422.8V458.85M730.7 425.9V458.85M797.5 424.7V458.85M836.8 427.8V458.85M870.0 406.7V458.85M875.4 421.0V458.85M880.5 426.5V458.85M882.8 425.9V458.85M889.5 430.3V458.85M895.1 417.3V458.85M920.4 417.9V458.85M935.0 405.5V458.85M944.2 409.8V458.85M946.8 422.2V458.85M965.6 417.3V458.85M1003.9 430.9V458.85M1023.1 425.3V458.85M1026.7 395.6V458.85M1038.2 426.5V458.85M1058.9 432.1V458.85" stroke="#fff" stroke-opacity="0.3" stroke-width="1" fill="none"/>
<path d="M137.5 421.6V458.85M195.8 421.6V458.85M199.4 422.2V458.85M210.6 409.8V458.85M295.1 422.8V458.85M381.9 423.5V458.85M413.0 408.0V458.85M504.2 427.8V458.85M509.3 415.4V458.85M537.1 428.4V458.85M574.7 414.8V458.85M594.1 422.2V458.85M654.6 428.4V458.85M689.1 434.0V458.85M704.1 414.8V458.85M709.9 408.0V458.85M713.4 412.9V458.85M727.2 425.3V458.85M742.3 416.6V458.85M771.0 417.9V458.85M783.1 415.4V458.85M925.5 416.6V458.85M959.7 424.7V458.85M974.8 414.2V458.85M988.4 422.2V458.85M992.7 410.5V458.85M1008.9 400.2V458.85M1016.8 422.8V458.85M1075.9 403.0V458.85" stroke="#fff" stroke-opacity="0.42" stroke-width="1" fill="none"/>

<path d="M109.7 476.3H118M109.7 512H118" stroke="#468246" stroke-width="1"/>
<path d="M120.00 512.8V484.1H120.69V512.8ZM120.69 512.8V484.7H121.65V512.8ZM121.65 512.8V486.5H122.62V512.8ZM122.62 512.8V499.7H123.58V512.8ZM123.58 512.8V490.1H124.55V512.8ZM124.55 512.8V500.3H125.51V512.8ZM130.34 512.8V499.7H131.30V512.8ZM131.30 512.8V499.1H132.15V512.8ZM132.15 512.8V477.1H132.99V512.8ZM132.99 512.8V479.2H133.83V512.8ZM133.83 512.8V477.1H134.68V512.8ZM134.68 512.8V478.6H135.64V512.8ZM135.64 512.8V479.2H136.61V512.8ZM136.61 512.8V500.9H137.57V512.8ZM138.42 512.8V510.6H139.14V512.8ZM139.14 512.8V489.5H139.98V512.8ZM139.98 512.8V477.8H140.83V512.8ZM140.83 512.8V482.9H141.67V512.8ZM141.67 512.8V500.3H142.64V512.8ZM142.64 512.8V506.4H143.60V512.8ZM143.60 512.8V510.0H144.57V512.8ZM144.57 512.8V511.8H145.53V512.8ZM145.53 512.8V511.2H146.50V512.8ZM148.43 512.8V508.8H149.39V512.8ZM149.39 512.8V505.2H150.36V512.8ZM150.36 512.8V502.1H151.20V512.8ZM151.20 512.8V496.7H152.04V512.8ZM152.04 512.8V486.2H152.89V512.8ZM154.46 512.8V487.7H155.42V512.8ZM158.19 512.8V496.1H159.04V512.8ZM159.04 512.8V482.9H160.00V512.8ZM160.00 512.8V477.1H160.85V512.8ZM160.85 512.8V477.8H161.69V512.8ZM161.69 512.8V502.1H162.66V512.8ZM162.66 512.8V510.6H163.62V512.8ZM163.62 512.8V512.0H164.59V512.8ZM164.59 512.8V511.2H165.55V512.8ZM165.55 512.8V509.4H166.52V512.8ZM166.52 512.8V493.7H167.36V512.8ZM167.36 512.8V477.4H168.08V512.8ZM168.08 512.8V486.5H168.93V512.8ZM168.93 512.8V477.1H169.77V512.8ZM176.16 512.8V508.2H177.13V512.8ZM177.13 512.8V494.9H178.09V512.8ZM178.09 512.8V504.6H178.94V512.8ZM178.94 512.8V479.2H179.66V512.8ZM179.66 512.8V505.8H180.51V512.8ZM186.05 512.8V506.4H187.02V512.8ZM187.02 512.8V496.7H187.98V512.8ZM187.98 512.8V508.2H188.95V512.8ZM193.29 512.8V508.8H194.25V512.8ZM194.25 512.8V504.6H195.10V512.8ZM195.10 512.8V500.9H195.94V512.8ZM195.94 512.8V504.6H196.91V512.8ZM196.91 512.8V508.2H197.87V512.8ZM197.87 512.8V510.6H198.84V512.8ZM198.84 512.8V510.0H199.68V512.8ZM200.52 512.8V510.6H201.49V512.8ZM201.49 512.8V511.2H202.45V512.8ZM202.45 512.8V509.4H203.30V512.8ZM203.30 512.8V485.3H204.14V512.8ZM204.14 512.8V477.1H205.11V512.8ZM205.11 512.8V477.1H206.07V512.8ZM206.07 512.8V477.1H206.92V512.8ZM206.92 512.8V497.9H207.76V512.8ZM212.46 512.8V479.8H213.19V512.8ZM213.19 512.8V504.6H213.91V512.8ZM213.91 512.8V480.4H214.75V512.8ZM214.75 512.8V478.6H215.60V512.8ZM215.60 512.8V502.1H216.44V512.8ZM220.91 512.8V508.2H221.75V512.8ZM221.75 512.8V510.0H222.71V512.8ZM222.71 512.8V511.2H223.68V512.8ZM223.68 512.8V511.8H224.64V512.8ZM226.57 512.8V511.8H227.54V512.8ZM228.50 512.8V508.2H229.47V512.8ZM229.47 512.8V511.6H230.43V512.8ZM230.43 512.8V511.2H231.28V512.8ZM231.28 512.8V498.5H232.12V512.8ZM232.12 512.8V499.1H232.97V512.8ZM232.97 512.8V509.4H233.69V512.8ZM238.03 512.8V477.1H238.87V512.8ZM238.87 512.8V478.6H239.72V512.8ZM239.72 512.8V484.1H240.56V512.8ZM240.56 512.8V477.1H241.53V512.8ZM241.53 512.8V478.6H242.49V512.8ZM242.49 512.8V479.5H243.34V512.8ZM243.34 512.8V479.5H244.18V512.8ZM245.15 512.8V504.0H246.11V512.8ZM248.04 512.8V486.5H249.00V512.8ZM249.00 512.8V477.1H249.96V512.8ZM249.96 512.8V477.1H250.81V512.8ZM250.81 512.8V477.4H251.53V512.8ZM253.94 512.8V503.4H254.79V512.8ZM256.60 512.8V492.5H257.32V512.8ZM258.17 512.8V478.0H259.13V512.8ZM259.13 512.8V477.1H260.10V512.8ZM260.10 512.8V477.1H261.06V512.8ZM261.06 512.8V477.1H262.02V512.8ZM262.02 512.8V477.4H262.87V512.8ZM265.52 512.8V496.7H266.25V512.8ZM266.25 512.8V484.1H266.97V512.8ZM266.97 512.8V478.6H267.81V512.8ZM267.81 512.8V483.5H268.66V512.8ZM268.66 512.8V496.1H269.38V512.8ZM270.23 512.8V477.1H271.07V512.8ZM271.07 512.8V479.2H271.79V512.8ZM271.79 512.8V497.9H272.52V512.8ZM273.96 512.8V482.3H274.69V512.8ZM274.69 512.8V499.1H275.41V512.8ZM275.41 512.8V483.5H276.13V512.8ZM276.13 512.8V482.3H276.86V512.8ZM276.86 512.8V499.7H277.70V512.8ZM282.04 512.8V511.2H283.01V512.8ZM283.01 512.8V511.8H283.97V512.8ZM283.97 512.8V510.6H284.94V512.8ZM284.94 512.8V504.6H285.90V512.8ZM285.90 512.8V510.6H286.87V512.8ZM286.87 512.8V507.0H287.71V512.8ZM287.71 512.8V510.6H288.56V512.8ZM288.56 512.8V511.6H289.40V512.8ZM292.54 512.8V497.9H293.26V512.8ZM293.26 512.8V487.7H294.10V512.8ZM294.10 512.8V487.1H294.95V512.8ZM294.95 512.8V480.4H295.79V512.8ZM295.79 512.8V477.1H296.76V512.8ZM296.76 512.8V477.4H297.60V512.8ZM297.60 512.8V484.1H298.32V512.8ZM298.32 512.8V485.3H299.17V512.8ZM299.17 512.8V491.9H300.13V512.8ZM301.10 512.8V491.3H301.94V512.8ZM301.94 512.8V479.2H302.79V512.8ZM302.79 512.8V477.4H303.75V512.8ZM303.75 512.8V477.1H304.60V512.8ZM304.60 512.8V494.9H305.44V512.8ZM305.44 512.8V496.1H306.40V512.8ZM310.99 512.8V501.5H311.83V512.8ZM311.83 512.8V510.6H312.68V512.8ZM312.68 512.8V477.8H313.64V512.8ZM313.64 512.8V477.1H314.48V512.8ZM314.48 512.8V507.0H315.21V512.8ZM318.95 512.8V477.1H319.91V512.8ZM319.91 512.8V477.1H320.76V512.8ZM321.48 512.8V493.7H322.20V512.8ZM322.20 512.8V487.7H322.93V512.8ZM322.93 512.8V478.0H323.65V512.8ZM323.65 512.8V496.7H324.49V512.8ZM325.46 512.8V511.8H326.30V512.8ZM326.30 512.8V497.9H327.15V512.8ZM328.72 512.8V489.5H329.44V512.8ZM329.44 512.8V487.1H330.28V512.8ZM330.28 512.8V485.3H331.13V512.8ZM331.13 512.8V477.1H331.85V512.8ZM331.85 512.8V485.3H332.57V512.8ZM332.57 512.8V504.0H333.42V512.8ZM334.38 512.8V497.3H335.23V512.8ZM335.23 512.8V477.8H336.07V512.8ZM336.07 512.8V478.6H337.04V512.8ZM337.04 512.8V480.4H338.00V512.8ZM338.85 512.8V488.9H339.69V512.8ZM339.69 512.8V490.7H340.53V512.8ZM340.53 512.8V503.4H341.38V512.8ZM341.38 512.8V505.2H342.34V512.8ZM342.34 512.8V508.8H343.31V512.8ZM343.31 512.8V510.4H344.27V512.8ZM344.27 512.8V511.2H345.24V512.8ZM345.24 512.8V511.8H346.20V512.8ZM346.20 512.8V512.2H347.17V512.8ZM347.17 512.8V512.2H348.13V512.8ZM348.13 512.8V512.2H349.10V512.8ZM349.10 512.8V512.2H350.06V512.8ZM350.06 512.8V512.2H350.91V512.8ZM353.56 512.8V505.2H354.28V512.8ZM355.97 512.8V511.8H356.69V512.8ZM356.69 512.8V504.6H357.54V512.8ZM357.54 512.8V479.2H358.38V512.8ZM358.38 512.8V477.1H359.11V512.8ZM359.11 512.8V487.1H359.95V512.8ZM359.95 512.8V500.9H360.79V512.8ZM363.93 512.8V499.1H364.77V512.8ZM364.77 512.8V488.9H365.74V512.8ZM365.74 512.8V484.1H366.70V512.8ZM366.70 512.8V477.1H367.55V512.8ZM367.55 512.8V481.0H368.27V512.8ZM368.27 512.8V482.3H369.00V512.8ZM369.00 512.8V499.7H369.84V512.8ZM369.84 512.8V507.0H370.68V512.8ZM370.68 512.8V508.2H371.41V512.8ZM371.41 512.8V511.8H372.13V512.8ZM372.13 512.8V504.0H372.97V512.8ZM372.97 512.8V504.0H373.94V512.8ZM373.94 512.8V484.1H374.90V512.8ZM374.90 512.8V485.9H375.87V512.8ZM375.87 512.8V486.5H376.71V512.8ZM376.71 512.8V487.1H377.56V512.8ZM378.76 512.8V477.1H379.84V512.8ZM379.84 512.8V478.6H380.57V512.8ZM382.01 512.8V508.2H382.86V512.8ZM382.86 512.8V498.5H383.82V512.8ZM383.82 512.8V488.3H384.67V512.8ZM384.67 512.8V508.8H385.51V512.8ZM385.51 512.8V510.6H386.36V512.8ZM386.36 512.8V511.2H387.08V512.8ZM391.90 512.8V505.2H392.75V512.8ZM392.75 512.8V510.6H393.71V512.8ZM393.71 512.8V502.1H394.56V512.8ZM394.56 512.8V509.4H395.40V512.8ZM395.40 512.8V511.2H396.37V512.8ZM396.37 512.8V511.2H397.33V512.8ZM398.30 512.8V510.0H399.14V512.8ZM401.67 512.8V505.2H402.52V512.8ZM402.52 512.8V485.3H403.24V512.8ZM403.24 512.8V477.1H404.08V512.8ZM404.08 512.8V477.1H405.05V512.8ZM405.05 512.8V477.1H406.01V512.8ZM406.01 512.8V477.1H406.86V512.8ZM406.86 512.8V502.1H407.58V512.8ZM408.43 512.8V477.1H409.39V512.8ZM409.39 512.8V477.1H410.23V512.8ZM410.23 512.8V477.1H410.96V512.8ZM411.68 512.8V477.1H412.41V512.8ZM412.41 512.8V483.5H413.13V512.8ZM413.13 512.8V477.1H413.97V512.8ZM413.97 512.8V477.1H414.82V512.8ZM414.82 512.8V485.3H415.54V512.8ZM415.54 512.8V499.1H416.26V512.8ZM416.26 512.8V497.9H416.99V512.8ZM416.99 512.8V493.1H417.71V512.8ZM417.71 512.8V488.9H418.44V512.8ZM418.44 512.8V493.7H419.28V512.8ZM419.28 512.8V494.3H420.12V512.8ZM420.12 512.8V499.7H420.85V512.8ZM420.85 512.8V477.1H421.69V512.8ZM421.69 512.8V477.1H422.54V512.8ZM422.54 512.8V478.6H423.26V512.8ZM423.26 512.8V477.1H424.10V512.8ZM424.10 512.8V477.8H424.95V512.8ZM424.95 512.8V477.1H425.67V512.8ZM427.12 512.8V477.1H427.84V512.8ZM427.84 512.8V477.1H428.57V512.8ZM428.57 512.8V487.1H429.29V512.8ZM429.29 512.8V487.7H430.01V512.8ZM430.01 512.8V510.6H430.86V512.8ZM430.86 512.8V511.2H431.82V512.8ZM432.67 512.8V510.6H433.39V512.8ZM435.56 512.8V483.5H436.28V512.8ZM437.01 512.8V482.3H437.73V512.8ZM437.73 512.8V482.9H438.45V512.8ZM438.45 512.8V502.8H439.18V512.8ZM439.18 512.8V493.1H439.90V512.8ZM439.90 512.8V500.3H440.63V512.8ZM440.63 512.8V507.0H441.35V512.8ZM441.35 512.8V511.2H442.19V512.8ZM442.19 512.8V512.0H443.16V512.8ZM443.16 512.8V512.2H444.12V512.8ZM444.12 512.8V512.2H445.09V512.8ZM445.09 512.8V512.2H446.05V512.8ZM446.05 512.8V512.2H447.02V512.8ZM447.02 512.8V512.2H447.98V512.8ZM447.98 512.8V512.2H448.95V512.8ZM448.95 512.8V512.2H449.91V512.8ZM449.91 512.8V510.6H450.76V512.8ZM453.29 512.8V510.0H454.25V512.8ZM454.25 512.8V510.6H455.10V512.8ZM455.10 512.8V503.4H455.94V512.8ZM455.94 512.8V494.9H456.79V512.8ZM456.79 512.8V511.8H457.63V512.8ZM457.63 512.8V506.4H458.47V512.8ZM463.54 512.8V502.1H464.38V512.8ZM464.38 512.8V496.1H465.23V512.8ZM465.95 512.8V477.1H466.67V512.8ZM466.67 512.8V477.8H467.40V512.8ZM467.40 512.8V484.1H468.12V512.8ZM468.12 512.8V477.1H468.85V512.8ZM468.85 512.8V478.6H469.57V512.8ZM472.46 512.8V496.7H473.19V512.8ZM473.19 512.8V488.3H473.91V512.8ZM473.91 512.8V488.3H474.63V512.8ZM474.63 512.8V505.8H475.36V512.8ZM475.36 512.8V507.0H476.08V512.8ZM476.08 512.8V511.2H476.81V512.8ZM481.15 512.8V489.5H481.87V512.8ZM483.32 512.8V477.1H484.04V512.8ZM484.04 512.8V479.2H484.76V512.8ZM484.76 512.8V482.3H485.49V512.8ZM485.49 512.8V482.9H486.21V512.8ZM486.21 512.8V488.9H486.94V512.8ZM491.28 512.8V510.6H492.00V512.8ZM492.00 512.8V509.4H492.72V512.8ZM492.72 512.8V490.1H493.45V512.8ZM493.45 512.8V507.0H494.17V512.8ZM494.17 512.8V507.6H494.89V512.8ZM494.89 512.8V504.6H495.62V512.8ZM498.51 512.8V511.8H499.24V512.8ZM499.24 512.8V508.2H499.96V512.8ZM499.96 512.8V496.7H500.68V512.8ZM500.68 512.8V477.1H501.53V512.8ZM501.53 512.8V477.1H502.37V512.8ZM502.37 512.8V485.3H503.10V512.8ZM503.10 512.8V486.5H503.82V512.8ZM506.71 512.8V500.9H507.44V512.8ZM507.44 512.8V477.1H508.16V512.8ZM508.16 512.8V477.1H508.94V512.8ZM509.78 512.8V489.5H510.57V512.8ZM510.57 512.8V499.7H511.29V512.8ZM511.29 512.8V504.0H512.01V512.8ZM512.01 512.8V509.4H512.74V512.8ZM512.74 512.8V510.6H513.46V512.8ZM514.91 512.8V511.2H515.63V512.8ZM515.63 512.8V510.6H516.36V512.8ZM517.80 512.8V510.6H518.65V512.8ZM518.65 512.8V510.8H519.61V512.8ZM519.61 512.8V510.6H520.46V512.8ZM520.46 512.8V511.2H521.18V512.8ZM521.18 512.8V512.2H521.90V512.8ZM521.90 512.8V508.2H522.63V512.8ZM526.25 512.8V504.0H526.97V512.8ZM526.97 512.8V477.1H527.69V512.8ZM527.69 512.8V477.4H528.42V512.8ZM528.42 512.8V481.0H529.14V512.8ZM529.14 512.8V482.3H529.86V512.8ZM529.86 512.8V483.5H530.59V512.8ZM530.59 512.8V500.3H531.31V512.8ZM531.31 512.8V500.9H532.03V512.8ZM532.03 512.8V500.3H532.76V512.8ZM532.76 512.8V511.2H533.48V512.8ZM533.48 512.8V511.8H534.21V512.8ZM534.21 512.8V511.2H534.93V512.8ZM534.93 512.8V504.0H535.65V512.8ZM535.65 512.8V504.6H536.38V512.8ZM536.38 512.8V510.6H537.10V512.8ZM537.10 512.8V511.8H537.82V512.8ZM537.82 512.8V507.0H538.55V512.8ZM538.55 512.8V508.2H539.27V512.8ZM539.27 512.8V512.2H539.99V512.8ZM539.99 512.8V509.4H540.72V512.8ZM542.16 512.8V497.3H542.89V512.8ZM542.89 512.8V477.8H543.61V512.8ZM543.61 512.8V477.1H544.34V512.8ZM544.34 512.8V477.4H545.06V512.8ZM545.06 512.8V511.2H545.78V512.8ZM545.78 512.8V511.2H546.51V512.8ZM546.51 512.8V502.1H547.23V512.8ZM547.23 512.8V477.1H547.95V512.8ZM547.95 512.8V484.1H548.68V512.8ZM548.68 512.8V488.9H549.40V512.8ZM549.40 512.8V491.3H550.12V512.8ZM550.12 512.8V507.0H550.85V512.8ZM550.85 512.8V511.8H551.57V512.8ZM551.57 512.8V485.3H552.29V512.8ZM552.29 512.8V477.1H553.02V512.8ZM553.02 512.8V485.3H553.74V512.8ZM553.74 512.8V487.7H554.47V512.8ZM554.47 512.8V477.8H555.19V512.8ZM555.19 512.8V477.1H555.91V512.8ZM555.91 512.8V478.6H556.64V512.8ZM556.64 512.8V480.4H557.36V512.8ZM557.36 512.8V497.3H558.08V512.8ZM561.70 512.8V497.3H562.42V512.8ZM562.42 512.8V477.1H563.15V512.8ZM563.15 512.8V479.8H563.87V512.8ZM563.87 512.8V500.3H564.60V512.8ZM564.60 512.8V507.0H565.32V512.8ZM565.32 512.8V505.2H566.04V512.8ZM566.04 512.8V510.6H566.77V512.8ZM566.77 512.8V511.2H567.49V512.8ZM567.49 512.8V508.2H568.21V512.8ZM568.21 512.8V509.4H568.94V512.8ZM568.94 512.8V511.2H569.66V512.8ZM569.66 512.8V511.8H570.38V512.8ZM570.38 512.8V510.6H571.11V512.8ZM571.11 512.8V500.9H571.83V512.8ZM571.83 512.8V499.7H572.56V512.8ZM572.56 512.8V477.1H573.28V512.8ZM573.28 512.8V486.5H574.00V512.8ZM574.00 512.8V490.7H574.73V512.8ZM574.73 512.8V500.3H575.45V512.8ZM575.45 512.8V496.7H576.17V512.8ZM576.17 512.8V497.9H576.90V512.8ZM578.34 512.8V499.1H579.07V512.8ZM579.07 512.8V479.2H579.79V512.8ZM579.79 512.8V480.4H580.51V512.8ZM581.24 512.8V499.1H581.96V512.8ZM581.96 512.8V490.7H582.69V512.8ZM582.69 512.8V491.3H583.41V512.8ZM584.86 512.8V477.1H585.58V512.8ZM588.47 512.8V485.3H589.20V512.8ZM589.20 512.8V499.1H589.92V512.8ZM589.92 512.8V477.1H590.64V512.8ZM590.64 512.8V485.3H591.37V512.8ZM591.37 512.8V486.5H592.09V512.8ZM592.09 512.8V491.9H592.82V512.8ZM592.82 512.8V505.2H593.54V512.8ZM595.71 512.8V510.6H596.43V512.8ZM596.43 512.8V511.8H597.16V512.8ZM598.60 512.8V511.2H599.33V512.8ZM599.33 512.8V510.8H600.05V512.8ZM600.05 512.8V510.4H600.78V512.8ZM600.78 512.8V508.8H601.50V512.8ZM601.50 512.8V510.6H602.22V512.8ZM602.22 512.8V511.8H602.95V512.8ZM602.95 512.8V511.6H603.67V512.8ZM603.67 512.8V511.2H604.39V512.8ZM604.39 512.8V511.8H605.12V512.8ZM605.12 512.8V512.0H605.84V512.8ZM605.84 512.8V511.8H606.56V512.8ZM606.56 512.8V511.2H607.29V512.8ZM607.29 512.8V505.8H608.01V512.8ZM608.01 512.8V504.6H608.73V512.8ZM608.73 512.8V505.2H609.46V512.8ZM609.46 512.8V510.6H610.18V512.8ZM610.18 512.8V511.2H610.91V512.8ZM610.91 512.8V508.2H611.63V512.8ZM615.25 512.8V477.1H615.97V512.8ZM615.97 512.8V477.4H616.69V512.8ZM616.69 512.8V477.8H617.42V512.8ZM617.42 512.8V478.6H618.14V512.8ZM618.14 512.8V490.1H618.86V512.8ZM618.86 512.8V499.1H619.59V512.8ZM619.59 512.8V504.6H620.31V512.8ZM622.48 512.8V477.1H623.21V512.8ZM623.21 512.8V477.8H623.93V512.8ZM625.38 512.8V478.6H626.10V512.8ZM626.10 512.8V477.1H626.82V512.8ZM626.82 512.8V477.1H627.55V512.8ZM627.55 512.8V477.8H628.27V512.8ZM628.27 512.8V493.7H629.00V512.8ZM629.00 512.8V498.5H629.72V512.8ZM633.34 512.8V488.9H634.06V512.8ZM634.06 512.8V497.3H634.78V512.8ZM634.78 512.8V507.6H635.51V512.8ZM635.51 512.8V508.2H636.23V512.8ZM636.23 512.8V508.8H636.95V512.8ZM636.95 512.8V509.4H637.68V512.8ZM637.68 512.8V508.2H638.70V512.8ZM638.70 512.8V508.2H639.78V512.8ZM639.78 512.8V511.8H640.69V512.8ZM640.69 512.8V512.2H641.65V512.8ZM641.65 512.8V512.2H642.50V512.8ZM642.50 512.8V511.8H643.22V512.8ZM643.22 512.8V506.4H643.94V512.8ZM643.94 512.8V490.1H644.67V512.8ZM644.67 512.8V488.9H645.39V512.8ZM645.39 512.8V477.1H646.12V512.8ZM646.12 512.8V477.4H646.84V512.8ZM647.56 512.8V477.8H648.29V512.8ZM648.29 512.8V478.6H649.01V512.8ZM649.01 512.8V479.2H649.73V512.8ZM649.73 512.8V511.2H650.46V512.8ZM650.46 512.8V508.2H651.18V512.8ZM652.63 512.8V507.0H653.35V512.8ZM653.35 512.8V506.4H654.07V512.8ZM654.07 512.8V489.5H654.80V512.8ZM654.80 512.8V506.4H655.52V512.8ZM655.52 512.8V507.0H656.25V512.8ZM656.25 512.8V499.7H656.97V512.8ZM656.97 512.8V510.6H657.69V512.8ZM658.42 512.8V511.8H659.14V512.8ZM659.14 512.8V511.2H659.86V512.8ZM661.31 512.8V511.2H662.03V512.8ZM662.03 512.8V504.0H662.76V512.8ZM662.76 512.8V511.8H663.60V512.8ZM663.60 512.8V512.2H664.57V512.8ZM664.57 512.8V511.6H665.41V512.8ZM665.41 512.8V511.2H666.13V512.8ZM666.13 512.8V511.8H666.86V512.8ZM668.31 512.8V511.8H669.03V512.8ZM669.03 512.8V511.2H669.75V512.8ZM669.75 512.8V508.2H670.48V512.8ZM670.48 512.8V506.4H671.20V512.8ZM671.20 512.8V501.5H671.92V512.8ZM671.92 512.8V504.6H672.65V512.8ZM672.65 512.8V501.5H673.25V512.8ZM673.25 512.8V486.7H673.85V512.8ZM673.85 512.8V497.3H674.58V512.8ZM674.58 512.8V497.9H675.30V512.8ZM677.47 512.8V509.4H678.19V512.8ZM679.64 512.8V507.0H680.37V512.8ZM680.37 512.8V510.6H681.09V512.8ZM681.09 512.8V511.2H681.81V512.8ZM681.81 512.8V507.6H682.54V512.8ZM682.54 512.8V508.2H683.26V512.8ZM687.60 512.8V510.6H688.32V512.8ZM688.32 512.8V511.8H689.05V512.8ZM689.05 512.8V512.0H689.77V512.8ZM689.77 512.8V511.8H690.50V512.8ZM690.50 512.8V511.2H691.22V512.8ZM691.22 512.8V500.9H691.94V512.8ZM691.94 512.8V511.8H692.67V512.8ZM694.84 512.8V489.5H695.56V512.8ZM695.56 512.8V505.8H696.28V512.8ZM696.28 512.8V508.2H697.01V512.8ZM697.73 512.8V509.4H698.45V512.8ZM698.45 512.8V510.6H699.18V512.8ZM699.18 512.8V511.8H699.90V512.8ZM699.90 512.8V512.2H700.63V512.8ZM700.63 512.8V511.8H701.35V512.8ZM701.35 512.8V508.2H702.07V512.8ZM704.97 512.8V511.8H705.69V512.8ZM705.69 512.8V512.2H706.41V512.8ZM706.41 512.8V510.6H707.14V512.8ZM707.14 512.8V507.6H707.86V512.8ZM707.86 512.8V505.2H708.59V512.8ZM708.59 512.8V508.2H709.31V512.8ZM709.31 512.8V498.5H710.03V512.8ZM710.03 512.8V477.8H710.76V512.8ZM710.76 512.8V486.5H711.48V512.8ZM711.48 512.8V488.9H712.20V512.8ZM715.82 512.8V497.9H716.54V512.8ZM716.54 512.8V498.5H717.27V512.8ZM717.27 512.8V479.0H717.99V512.8ZM717.99 512.8V507.0H718.72V512.8ZM718.72 512.8V511.8H719.44V512.8ZM719.44 512.8V512.2H720.28V512.8ZM720.28 512.8V512.2H721.25V512.8ZM721.25 512.8V512.2H722.21V512.8ZM722.21 512.8V511.8H723.06V512.8ZM723.06 512.8V511.2H723.78V512.8ZM723.78 512.8V511.8H724.50V512.8ZM724.50 512.8V512.2H725.23V512.8ZM725.23 512.8V511.8H725.95V512.8ZM725.95 512.8V508.2H726.67V512.8ZM726.67 512.8V511.2H727.40V512.8ZM727.40 512.8V511.8H728.12V512.8ZM728.12 512.8V511.6H728.85V512.8ZM728.85 512.8V511.8H729.57V512.8ZM729.57 512.8V511.2H730.29V512.8ZM730.29 512.8V511.6H731.02V512.8ZM731.02 512.8V510.6H731.74V512.8ZM733.91 512.8V511.8H734.63V512.8ZM734.63 512.8V500.3H735.36V512.8ZM735.36 512.8V499.7H736.08V512.8ZM736.08 512.8V477.1H736.81V512.8ZM736.81 512.8V477.1H737.53V512.8ZM737.53 512.8V498.5H738.25V512.8ZM738.25 512.8V499.1H738.98V512.8ZM738.98 512.8V511.8H739.70V512.8ZM739.70 512.8V512.2H740.42V512.8ZM740.42 512.8V511.2H741.15V512.8ZM742.59 512.8V511.8H743.32V512.8ZM743.32 512.8V510.6H744.04V512.8ZM744.04 512.8V508.2H744.76V512.8ZM744.76 512.8V511.2H745.49V512.8ZM745.49 512.8V512.2H746.33V512.8ZM746.33 512.8V512.2H747.30V512.8ZM747.30 512.8V512.2H748.14V512.8ZM748.14 512.8V510.6H748.86V512.8ZM751.76 512.8V511.8H752.60V512.8ZM752.60 512.8V512.2H753.57V512.8ZM753.57 512.8V512.2H754.53V512.8ZM754.53 512.8V512.2H755.50V512.8ZM755.50 512.8V512.2H756.46V512.8ZM756.46 512.8V511.8H757.31V512.8ZM758.75 512.8V477.1H759.48V512.8ZM759.48 512.8V477.4H760.20V512.8ZM761.65 512.8V511.2H762.37V512.8ZM762.37 512.8V510.6H763.10V512.8ZM763.10 512.8V508.2H763.82V512.8ZM763.82 512.8V511.8H764.54V512.8ZM764.54 512.8V510.6H765.27V512.8ZM768.16 512.8V503.4H768.94V512.8ZM768.94 512.8V506.4H769.78V512.8ZM769.78 512.8V497.9H770.57V512.8ZM770.57 512.8V504.0H771.29V512.8ZM771.29 512.8V503.4H772.01V512.8ZM772.01 512.8V481.6H772.74V512.8ZM772.74 512.8V479.2H773.46V512.8ZM773.46 512.8V477.1H774.19V512.8ZM774.19 512.8V480.4H774.91V512.8ZM774.91 512.8V482.9H775.63V512.8ZM778.53 512.8V477.4H779.25V512.8ZM779.25 512.8V485.3H779.97V512.8ZM779.97 512.8V479.2H780.70V512.8ZM780.70 512.8V481.0H781.42V512.8ZM781.42 512.8V482.3H782.15V512.8ZM782.15 512.8V477.8H782.87V512.8ZM783.59 512.8V477.8H784.32V512.8ZM784.32 512.8V490.1H785.04V512.8ZM785.04 512.8V491.3H785.76V512.8ZM785.76 512.8V511.8H786.49V512.8ZM786.49 512.8V512.2H787.21V512.8ZM787.21 512.8V504.6H787.93V512.8ZM787.93 512.8V478.6H788.66V512.8ZM788.66 512.8V487.7H789.38V512.8ZM789.38 512.8V511.8H790.10V512.8ZM790.10 512.8V512.2H790.83V512.8ZM790.83 512.8V512.0H791.55V512.8ZM791.55 512.8V493.7H792.28V512.8ZM793.72 512.8V477.4H794.45V512.8ZM795.17 512.8V482.9H795.89V512.8ZM796.62 512.8V490.7H797.34V512.8ZM797.34 512.8V493.7H798.06V512.8ZM798.79 512.8V477.1H799.51V512.8ZM799.51 512.8V477.1H800.23V512.8ZM800.23 512.8V477.4H800.96V512.8ZM800.96 512.8V484.1H801.68V512.8ZM801.68 512.8V482.9H802.41V512.8ZM805.30 512.8V492.5H806.02V512.8ZM806.02 512.8V500.9H806.75V512.8ZM806.75 512.8V496.7H807.47V512.8ZM807.47 512.8V497.3H808.19V512.8ZM808.19 512.8V479.2H808.92V512.8ZM808.92 512.8V477.1H809.64V512.8ZM809.64 512.8V477.1H810.37V512.8ZM810.37 512.8V477.4H811.09V512.8ZM815.43 512.8V479.8H816.15V512.8ZM816.15 512.8V510.6H816.88V512.8ZM816.88 512.8V504.6H817.60V512.8ZM817.60 512.8V511.8H818.32V512.8ZM819.77 512.8V511.8H820.50V512.8ZM820.50 512.8V508.8H821.22V512.8ZM823.39 512.8V497.9H824.11V512.8ZM824.11 512.8V483.5H824.84V512.8ZM824.84 512.8V482.9H825.56V512.8ZM825.56 512.8V482.3H826.28V512.8ZM826.28 512.8V477.1H827.01V512.8ZM827.01 512.8V477.1H827.73V512.8ZM827.73 512.8V481.0H828.45V512.8ZM829.90 512.8V500.9H830.63V512.8ZM832.07 512.8V512.0H832.80V512.8ZM832.80 512.8V511.2H833.52V512.8ZM833.52 512.8V510.8H834.24V512.8ZM834.24 512.8V510.6H834.97V512.8ZM834.97 512.8V510.0H835.69V512.8ZM835.69 512.8V511.8H836.41V512.8ZM836.41 512.8V511.6H837.14V512.8ZM837.14 512.8V511.2H837.86V512.8ZM837.86 512.8V510.8H838.59V512.8ZM838.59 512.8V511.6H839.31V512.8ZM839.31 512.8V511.2H840.03V512.8ZM840.03 512.8V508.2H840.76V512.8ZM840.76 512.8V508.8H841.48V512.8ZM841.48 512.8V510.8H842.20V512.8ZM842.20 512.8V511.2H842.93V512.8ZM842.93 512.8V511.8H843.65V512.8ZM843.65 512.8V510.6H844.37V512.8ZM844.37 512.8V497.3H845.10V512.8ZM845.10 512.8V496.7H845.82V512.8ZM847.99 512.8V504.0H848.72V512.8ZM848.72 512.8V487.7H849.44V512.8ZM850.89 512.8V487.7H851.61V512.8ZM851.61 512.8V484.7H852.33V512.8ZM852.33 512.8V485.3H853.06V512.8ZM853.06 512.8V484.7H853.78V512.8ZM853.78 512.8V487.1H854.50V512.8ZM854.50 512.8V490.1H855.23V512.8ZM858.85 512.8V500.3H859.57V512.8ZM859.57 512.8V500.9H860.29V512.8ZM860.29 512.8V509.4H861.02V512.8ZM861.02 512.8V477.8H861.74V512.8ZM861.74 512.8V493.7H862.46V512.8ZM862.46 512.8V494.3H863.19V512.8ZM863.19 512.8V484.1H863.91V512.8ZM864.63 512.8V500.3H865.36V512.8ZM867.53 512.8V480.4H868.25V512.8ZM868.25 512.8V478.6H868.98V512.8ZM869.70 512.8V477.1H870.42V512.8ZM870.42 512.8V477.4H871.15V512.8ZM871.15 512.8V480.4H871.87V512.8ZM871.87 512.8V496.1H872.59V512.8ZM872.59 512.8V482.9H873.32V512.8ZM876.21 512.8V500.9H876.94V512.8ZM878.38 512.8V505.2H879.11V512.8ZM879.11 512.8V511.2H879.83V512.8ZM879.83 512.8V511.8H880.55V512.8ZM880.55 512.8V508.2H881.28V512.8ZM881.28 512.8V510.6H882.00V512.8ZM882.00 512.8V511.2H882.72V512.8ZM882.72 512.8V510.4H883.45V512.8ZM883.45 512.8V511.2H884.17V512.8ZM884.17 512.8V511.8H884.89V512.8ZM884.89 512.8V511.6H885.62V512.8ZM885.62 512.8V510.6H886.34V512.8ZM886.34 512.8V507.0H887.07V512.8ZM887.07 512.8V509.4H887.79V512.8ZM887.79 512.8V511.2H888.51V512.8ZM888.51 512.8V511.8H889.24V512.8ZM889.24 512.8V511.6H889.96V512.8ZM889.96 512.8V510.8H890.68V512.8ZM890.68 512.8V510.6H891.41V512.8ZM894.30 512.8V506.4H895.03V512.8ZM895.75 512.8V477.1H896.47V512.8ZM896.47 512.8V477.1H897.20V512.8ZM897.20 512.8V477.4H897.92V512.8ZM897.92 512.8V477.1H898.82V512.8ZM898.82 512.8V487.7H899.78V512.8ZM899.78 512.8V477.1H900.57V512.8ZM903.46 512.8V497.3H904.19V512.8ZM904.19 512.8V499.7H904.91V512.8ZM904.91 512.8V484.1H905.63V512.8ZM905.63 512.8V481.6H906.36V512.8ZM906.36 512.8V478.6H907.08V512.8ZM907.08 512.8V477.1H907.80V512.8ZM907.80 512.8V477.1H908.53V512.8ZM908.53 512.8V477.8H909.25V512.8ZM909.25 512.8V483.5H909.97V512.8ZM910.70 512.8V483.5H911.42V512.8ZM913.59 512.8V481.0H914.20V512.8ZM914.20 512.8V490.1H914.80V512.8ZM914.80 512.8V485.3H915.52V512.8ZM915.52 512.8V487.1H916.25V512.8ZM916.25 512.8V487.7H916.97V512.8ZM916.97 512.8V477.1H917.69V512.8ZM917.69 512.8V509.4H918.42V512.8ZM921.31 512.8V485.9H922.03V512.8ZM922.03 512.8V486.5H922.76V512.8ZM922.76 512.8V482.3H923.48V512.8ZM923.48 512.8V484.7H924.21V512.8ZM924.21 512.8V484.1H924.93V512.8ZM924.93 512.8V477.1H925.65V512.8ZM925.65 512.8V497.3H926.38V512.8ZM926.38 512.8V499.1H927.10V512.8ZM927.10 512.8V511.8H927.82V512.8ZM931.44 512.8V490.1H932.16V512.8ZM932.16 512.8V478.6H932.89V512.8ZM932.89 512.8V483.5H933.61V512.8ZM933.61 512.8V479.8H934.34V512.8ZM934.34 512.8V482.3H935.06V512.8ZM935.06 512.8V483.5H935.78V512.8ZM936.51 512.8V502.8H937.23V512.8ZM938.68 512.8V503.4H939.40V512.8ZM939.40 512.8V504.0H940.12V512.8ZM940.12 512.8V504.6H940.85V512.8ZM940.85 512.8V506.4H941.57V512.8ZM941.57 512.8V508.8H942.29V512.8ZM942.29 512.8V508.2H943.02V512.8ZM943.02 512.8V477.8H943.74V512.8ZM943.74 512.8V481.6H944.47V512.8ZM944.47 512.8V507.6H945.19V512.8ZM948.81 512.8V507.6H949.53V512.8ZM949.53 512.8V508.2H950.25V512.8ZM950.25 512.8V496.1H950.98V512.8ZM950.98 512.8V477.1H951.70V512.8ZM951.70 512.8V477.1H952.42V512.8ZM952.42 512.8V484.1H953.15V512.8ZM953.15 512.8V496.7H953.87V512.8ZM953.87 512.8V497.3H954.60V512.8ZM958.94 512.8V490.1H959.66V512.8ZM959.66 512.8V490.7H960.38V512.8ZM960.38 512.8V491.9H961.11V512.8ZM961.11 512.8V511.8H961.83V512.8ZM961.83 512.8V507.0H962.56V512.8ZM962.56 512.8V493.7H963.28V512.8ZM966.17 512.8V477.1H966.90V512.8ZM966.90 512.8V481.0H967.62V512.8ZM967.62 512.8V477.1H968.34V512.8ZM968.34 512.8V479.8H969.07V512.8ZM969.07 512.8V480.4H969.79V512.8ZM969.79 512.8V492.5H970.51V512.8ZM970.51 512.8V484.1H971.24V512.8ZM971.24 512.8V477.1H971.96V512.8ZM972.69 512.8V483.5H973.41V512.8ZM977.03 512.8V500.9H977.75V512.8ZM977.75 512.8V496.1H978.47V512.8ZM978.47 512.8V510.6H979.20V512.8ZM979.20 512.8V511.2H979.92V512.8ZM979.92 512.8V510.6H980.64V512.8ZM980.64 512.8V511.2H981.37V512.8ZM983.54 512.8V503.4H984.26V512.8ZM984.26 512.8V491.9H984.99V512.8ZM984.99 512.8V493.1H985.71V512.8ZM985.71 512.8V502.1H986.43V512.8ZM986.43 512.8V500.3H987.16V512.8ZM987.16 512.8V485.3H987.88V512.8ZM987.88 512.8V493.7H988.60V512.8ZM988.60 512.8V499.1H989.33V512.8ZM995.12 512.8V481.6H995.84V512.8ZM995.84 512.8V491.9H996.56V512.8ZM997.29 512.8V477.1H998.01V512.8ZM998.01 512.8V493.1H998.73V512.8ZM1003.80 512.8V477.1H1004.52V512.8ZM1004.52 512.8V477.1H1005.25V512.8ZM1005.25 512.8V502.1H1005.97V512.8ZM1005.97 512.8V502.8H1006.69V512.8ZM1006.69 512.8V507.6H1007.42V512.8ZM1011.76 512.8V477.1H1012.48V512.8ZM1012.48 512.8V478.6H1013.21V512.8ZM1013.21 512.8V477.1H1013.93V512.8ZM1013.93 512.8V477.1H1014.65V512.8ZM1014.65 512.8V494.3H1015.38V512.8ZM1015.38 512.8V487.7H1016.10V512.8ZM1016.10 512.8V487.1H1016.82V512.8ZM1016.82 512.8V490.1H1017.55V512.8ZM1021.89 512.8V483.5H1022.61V512.8ZM1022.61 512.8V492.5H1023.34V512.8ZM1023.34 512.8V511.8H1024.06V512.8ZM1024.06 512.8V511.2H1024.78V512.8ZM1024.78 512.8V510.6H1025.51V512.8ZM1026.23 512.8V477.1H1026.95V512.8ZM1026.95 512.8V477.1H1027.68V512.8ZM1027.68 512.8V477.1H1028.40V512.8ZM1028.40 512.8V477.1H1028.90V512.8ZM1030.85 512.8V493.1H1031.57V512.8ZM1031.57 512.8V500.3H1032.30V512.8ZM1032.30 512.8V502.1H1033.02V512.8ZM1033.02 512.8V502.8H1033.75V512.8ZM1033.75 512.8V510.6H1034.47V512.8ZM1034.47 512.8V511.2H1035.19V512.8ZM1035.19 512.8V510.6H1035.92V512.8ZM1035.92 512.8V510.0H1036.64V512.8ZM1036.64 512.8V511.2H1037.36V512.8ZM1037.36 512.8V511.8H1038.09V512.8ZM1038.09 512.8V512.0H1038.81V512.8ZM1038.81 512.8V509.4H1039.53V512.8ZM1039.53 512.8V509.4H1040.26V512.8ZM1040.26 512.8V512.0H1040.98V512.8ZM1040.98 512.8V512.2H1041.70V512.8ZM1041.70 512.8V512.2H1042.43V512.8ZM1042.43 512.8V512.2H1043.15V512.8ZM1043.15 512.8V512.2H1043.88V512.8ZM1043.88 512.8V512.2H1044.60V512.8ZM1044.60 512.8V512.2H1045.32V512.8ZM1045.32 512.8V512.2H1046.05V512.8ZM1046.77 512.8V486.5H1047.49V512.8ZM1047.49 512.8V485.9H1048.22V512.8ZM1048.22 512.8V477.8H1048.94V512.8ZM1048.94 512.8V477.1H1049.66V512.8ZM1049.66 512.8V483.5H1050.39V512.8ZM1050.39 512.8V496.7H1051.11V512.8ZM1051.11 512.8V500.9H1051.84V512.8ZM1051.84 512.8V507.6H1052.56V512.8ZM1052.56 512.8V508.2H1053.28V512.8ZM1057.62 512.8V493.1H1058.35V512.8ZM1058.35 512.8V493.7H1059.07V512.8ZM1059.07 512.8V479.8H1059.79V512.8ZM1059.79 512.8V485.9H1060.52V512.8ZM1060.52 512.8V481.0H1061.24V512.8ZM1061.24 512.8V477.8H1061.97V512.8ZM1064.86 512.8V509.4H1065.58V512.8ZM1065.58 512.8V499.1H1066.31V512.8ZM1067.03 512.8V500.3H1067.75V512.8ZM1067.75 512.8V477.1H1068.48V512.8ZM1068.48 512.8V477.1H1069.20V512.8ZM1069.20 512.8V477.1H1069.92V512.8ZM1069.92 512.8V477.4H1070.65V512.8ZM1070.65 512.8V487.7H1071.37V512.8ZM1071.37 512.8V494.3H1072.10V512.8ZM1072.10 512.8V503.4H1072.82V512.8ZM1072.82 512.8V511.8H1073.54V512.8ZM1074.99 512.8V477.1H1075.71V512.8ZM1075.71 512.8V477.1H1076.44V512.8ZM1076.44 512.8V477.4H1077.10V512.8Z" fill="#468246"/>
<path d="M127.44 512.8V477.1H128.41V512.8ZM137.57 512.8V507.0H138.42V512.8ZM147.46 512.8V509.4H148.43V512.8ZM157.35 512.8V479.2H158.19V512.8ZM170.62 512.8V477.1H171.58V512.8ZM181.35 512.8V477.8H182.19V512.8ZM188.95 512.8V485.9H189.91V512.8ZM189.91 512.8V484.1H190.76V512.8ZM219.22 512.8V480.2H220.06V512.8ZM234.53 512.8V477.1H235.38V512.8ZM237.19 512.8V504.0H238.03V512.8ZM246.11 512.8V504.6H247.08V512.8ZM264.68 512.8V485.5H265.52V512.8ZM272.52 512.8V497.9H273.24V512.8ZM278.67 512.8V487.7H279.63V512.8ZM289.40 512.8V505.8H290.12V512.8ZM290.85 512.8V480.4H291.69V512.8ZM306.40 512.8V497.9H307.25V512.8ZM317.02 512.8V477.8H317.98V512.8ZM324.49 512.8V509.4H325.46V512.8ZM327.99 512.8V484.1H328.72V512.8ZM355.13 512.8V498.5H355.97V512.8ZM377.56 512.8V477.1H378.76V512.8ZM388.77 512.8V484.1H389.49V512.8ZM389.49 512.8V493.7H390.34V512.8ZM391.18 512.8V493.7H391.90V512.8ZM425.67 512.8V500.9H426.40V512.8ZM426.40 512.8V497.9H427.12V512.8ZM451.60 512.8V504.0H452.44V512.8ZM461.01 512.8V477.1H461.97V512.8ZM482.59 512.8V477.1H483.32V512.8ZM490.55 512.8V485.3H491.28V512.8ZM497.79 512.8V508.2H498.51V512.8ZM504.54 512.8V499.1H505.27V512.8ZM523.35 512.8V478.0H524.07V512.8ZM597.16 512.8V507.0H597.88V512.8ZM614.52 512.8V479.2H615.25V512.8ZM630.44 512.8V482.3H631.17V512.8ZM646.84 512.8V479.2H647.56V512.8ZM651.90 512.8V502.8H652.63V512.8ZM667.58 512.8V504.0H668.31V512.8ZM678.92 512.8V500.9H679.64V512.8ZM685.43 512.8V489.5H686.15V512.8ZM694.11 512.8V480.4H694.84V512.8ZM702.07 512.8V502.8H702.80V512.8ZM703.52 512.8V490.1H704.24V512.8ZM757.31 512.8V479.2H758.03V512.8ZM760.20 512.8V482.3H760.92V512.8ZM765.27 512.8V497.3H765.99V512.8ZM811.81 512.8V477.8H812.54V512.8ZM821.22 512.8V505.2H821.94V512.8ZM821.94 512.8V504.6H822.67V512.8ZM830.63 512.8V504.0H831.35V512.8ZM846.54 512.8V486.5H847.27V512.8ZM855.95 512.8V493.1H856.67V512.8ZM873.32 512.8V483.5H874.04V512.8ZM874.04 512.8V495.5H874.76V512.8ZM892.13 512.8V499.1H892.85V512.8ZM901.29 512.8V480.4H902.01V512.8ZM902.01 512.8V481.0H902.74V512.8ZM911.42 512.8V484.1H912.15V512.8ZM912.87 512.8V478.0H913.59V512.8ZM935.78 512.8V480.4H936.51V512.8ZM937.95 512.8V477.4H938.68V512.8ZM963.28 512.8V477.1H964.00V512.8ZM964.00 512.8V477.1H964.73V512.8ZM971.96 512.8V478.0H972.69V512.8ZM973.41 512.8V484.7H974.13V512.8ZM974.13 512.8V485.3H974.86V512.8ZM976.30 512.8V494.3H977.03V512.8ZM982.82 512.8V507.0H983.54V512.8ZM989.33 512.8V480.4H990.05V512.8ZM990.05 512.8V484.1H990.78V512.8ZM991.50 512.8V477.1H992.22V512.8ZM1000.91 512.8V477.1H1001.63V512.8ZM1002.35 512.8V500.9H1003.08V512.8ZM1003.08 512.8V501.5H1003.80V512.8ZM1008.14 512.8V478.6H1008.86V512.8ZM1009.59 512.8V477.1H1010.31V512.8ZM1010.31 512.8V485.3H1011.04V512.8ZM1018.27 512.8V477.4H1019.00V512.8ZM1019.72 512.8V479.2H1020.44V512.8ZM1030.13 512.8V478.0H1030.85V512.8ZM1056.90 512.8V477.8H1057.62V512.8Z" fill="#468246" fill-opacity="0.62"/>
<path d="M125.51 512.8V488.3H126.48V512.8ZM126.48 512.8V477.1H127.44V512.8ZM129.37 512.8V494.9H130.34V512.8ZM146.50 512.8V498.5H147.46V512.8ZM152.89 512.8V497.3H153.61V512.8ZM155.42 512.8V479.2H156.39V512.8ZM169.77 512.8V492.5H170.62V512.8ZM171.58 512.8V493.7H172.55V512.8ZM173.39 512.8V477.1H174.23V512.8ZM174.23 512.8V477.1H175.20V512.8ZM180.51 512.8V497.3H181.35V512.8ZM182.19 512.8V478.6H183.16V512.8ZM184.12 512.8V493.1H185.09V512.8ZM185.09 512.8V507.0H186.05V512.8ZM190.76 512.8V484.7H191.54V512.8ZM191.54 512.8V480.4H192.38V512.8ZM192.38 512.8V500.3H193.29V512.8ZM199.68 512.8V506.4H200.52V512.8ZM207.76 512.8V502.1H208.73V512.8ZM208.73 512.8V477.1H209.69V512.8ZM209.69 512.8V477.1H210.65V512.8ZM210.65 512.8V477.1H211.62V512.8ZM211.62 512.8V477.8H212.46V512.8ZM216.44 512.8V505.2H217.41V512.8ZM218.37 512.8V505.8H219.22V512.8ZM220.06 512.8V486.5H220.91V512.8ZM225.61 512.8V505.8H226.57V512.8ZM227.54 512.8V509.4H228.50V512.8ZM233.69 512.8V483.5H234.53V512.8ZM235.38 512.8V490.1H236.22V512.8ZM236.22 512.8V499.7H237.19V512.8ZM244.18 512.8V491.3H245.15V512.8ZM247.08 512.8V505.2H248.04V512.8ZM251.53 512.8V503.4H252.26V512.8ZM252.26 512.8V477.8H253.10V512.8ZM254.79 512.8V500.3H255.75V512.8ZM255.75 512.8V479.2H256.60V512.8ZM263.71 512.8V497.9H264.68V512.8ZM269.38 512.8V477.1H270.23V512.8ZM273.24 512.8V481.0H273.96V512.8ZM280.48 512.8V503.4H281.20V512.8ZM291.69 512.8V479.2H292.54V512.8ZM300.13 512.8V491.9H301.10V512.8ZM307.25 512.8V477.1H308.09V512.8ZM309.06 512.8V477.1H310.02V512.8ZM310.02 512.8V477.1H310.99V512.8ZM315.21 512.8V506.4H316.05V512.8ZM317.98 512.8V477.1H318.95V512.8ZM320.76 512.8V479.2H321.48V512.8ZM333.42 512.8V497.3H334.38V512.8ZM338.00 512.8V482.3H338.85V512.8ZM350.91 512.8V486.5H351.75V512.8ZM351.75 512.8V485.5H352.71V512.8ZM352.71 512.8V485.3H353.56V512.8ZM354.28 512.8V504.6H355.13V512.8ZM360.79 512.8V500.3H361.64V512.8ZM361.64 512.8V500.3H362.48V512.8ZM362.48 512.8V490.1H363.21V512.8ZM363.21 512.8V509.4H363.93V512.8ZM380.57 512.8V487.1H381.29V512.8ZM381.29 512.8V503.4H382.01V512.8ZM387.92 512.8V484.7H388.77V512.8ZM397.33 512.8V510.6H398.30V512.8ZM399.14 512.8V497.9H399.98V512.8ZM399.98 512.8V497.9H400.83V512.8ZM410.96 512.8V495.5H411.68V512.8ZM433.39 512.8V480.4H434.11V512.8ZM434.11 512.8V481.0H434.84V512.8ZM434.84 512.8V482.9H435.56V512.8ZM436.28 512.8V477.1H437.01V512.8ZM452.44 512.8V509.4H453.29V512.8ZM459.20 512.8V477.1H460.04V512.8ZM460.04 512.8V477.1H461.01V512.8ZM462.82 512.8V477.8H463.54V512.8ZM465.23 512.8V495.5H465.95V512.8ZM470.29 512.8V477.1H471.02V512.8ZM476.81 512.8V485.3H477.53V512.8ZM478.25 512.8V479.2H478.98V512.8ZM478.98 512.8V479.5H479.70V512.8ZM481.87 512.8V477.1H482.59V512.8ZM487.66 512.8V502.8H488.38V512.8ZM489.11 512.8V478.0H489.83V512.8ZM489.83 512.8V481.6H490.55V512.8ZM496.34 512.8V497.9H497.07V512.8ZM497.07 512.8V507.0H497.79V512.8ZM503.82 512.8V501.5H504.54V512.8ZM505.27 512.8V497.9H505.99V512.8ZM505.99 512.8V500.9H506.71V512.8ZM508.94 512.8V477.1H509.78V512.8ZM514.19 512.8V502.8H514.91V512.8ZM516.36 512.8V485.3H517.08V512.8ZM517.08 512.8V500.9H517.80V512.8ZM522.63 512.8V488.3H523.35V512.8ZM524.80 512.8V505.8H525.52V512.8ZM525.52 512.8V504.6H526.25V512.8ZM540.72 512.8V504.6H541.44V512.8ZM558.08 512.8V496.7H558.81V512.8ZM558.81 512.8V497.9H559.53V512.8ZM559.53 512.8V490.1H560.25V512.8ZM560.25 512.8V489.5H560.98V512.8ZM560.98 512.8V490.1H561.70V512.8ZM577.62 512.8V502.1H578.34V512.8ZM580.51 512.8V496.1H581.24V512.8ZM584.13 512.8V477.4H584.86V512.8ZM585.58 512.8V477.1H586.30V512.8ZM586.30 512.8V477.1H587.03V512.8ZM587.03 512.8V477.1H587.75V512.8ZM587.75 512.8V477.1H588.47V512.8ZM593.54 512.8V508.2H594.26V512.8ZM594.99 512.8V500.3H595.71V512.8ZM611.63 512.8V496.1H612.35V512.8ZM613.08 512.8V507.0H613.80V512.8ZM613.80 512.8V486.5H614.52V512.8ZM620.31 512.8V505.8H621.04V512.8ZM621.04 512.8V479.2H621.76V512.8ZM623.93 512.8V478.6H624.65V512.8ZM624.65 512.8V502.1H625.38V512.8ZM629.72 512.8V483.5H630.44V512.8ZM631.89 512.8V490.1H632.61V512.8ZM632.61 512.8V479.2H633.34V512.8ZM651.18 512.8V502.1H651.90V512.8ZM657.69 512.8V507.0H658.42V512.8ZM659.86 512.8V506.4H660.59V512.8ZM666.86 512.8V504.6H667.58V512.8ZM676.75 512.8V503.6H677.47V512.8ZM683.26 512.8V484.1H683.98V512.8ZM683.98 512.8V481.0H684.71V512.8ZM684.71 512.8V480.4H685.43V512.8ZM686.15 512.8V490.7H686.88V512.8ZM692.67 512.8V490.1H693.39V512.8ZM697.01 512.8V505.2H697.73V512.8ZM702.80 512.8V503.4H703.52V512.8ZM704.24 512.8V489.8H704.97V512.8ZM712.20 512.8V490.1H712.93V512.8ZM712.93 512.8V487.7H713.65V512.8ZM713.65 512.8V483.5H714.37V512.8ZM714.37 512.8V492.5H715.10V512.8ZM732.46 512.8V496.7H733.19V512.8ZM741.15 512.8V493.1H741.87V512.8ZM741.87 512.8V493.5H742.59V512.8ZM750.31 512.8V486.2H751.04V512.8ZM751.04 512.8V486.5H751.76V512.8ZM758.03 512.8V478.0H758.75V512.8ZM765.99 512.8V494.3H766.71V512.8ZM766.71 512.8V492.5H767.44V512.8ZM767.44 512.8V502.1H768.16V512.8ZM777.80 512.8V477.1H778.53V512.8ZM792.28 512.8V479.2H793.00V512.8ZM798.06 512.8V490.1H798.79V512.8ZM802.41 512.8V484.1H803.13V512.8ZM803.13 512.8V477.1H803.85V512.8ZM804.58 512.8V488.3H805.30V512.8ZM812.54 512.8V478.6H813.26V512.8ZM813.26 512.8V482.3H813.98V512.8ZM814.71 512.8V479.5H815.43V512.8ZM818.32 512.8V508.8H819.05V512.8ZM828.45 512.8V481.6H829.18V512.8ZM829.18 512.8V482.9H829.90V512.8ZM831.35 512.8V507.0H832.07V512.8ZM849.44 512.8V480.4H850.16V512.8ZM850.16 512.8V484.1H850.89V512.8ZM856.67 512.8V486.5H857.40V512.8ZM858.12 512.8V479.2H858.85V512.8ZM863.91 512.8V482.3H864.63V512.8ZM865.36 512.8V486.5H866.08V512.8ZM866.08 512.8V485.9H866.81V512.8ZM874.76 512.8V496.1H875.49V512.8ZM875.49 512.8V491.9H876.21V512.8ZM876.94 512.8V481.6H877.66V512.8ZM877.66 512.8V482.3H878.38V512.8ZM891.41 512.8V498.5H892.13V512.8ZM893.58 512.8V507.0H894.30V512.8ZM895.03 512.8V499.7H895.75V512.8ZM900.57 512.8V487.7H901.29V512.8ZM902.74 512.8V481.6H903.46V512.8ZM912.15 512.8V480.4H912.87V512.8ZM929.27 512.8V487.7H929.99V512.8ZM929.99 512.8V488.9H930.72V512.8ZM937.23 512.8V477.1H937.95V512.8ZM945.91 512.8V477.4H946.64V512.8ZM947.36 512.8V486.5H948.08V512.8ZM948.08 512.8V485.9H948.81V512.8ZM954.60 512.8V497.9H955.32V512.8ZM956.77 512.8V484.1H957.49V512.8ZM957.49 512.8V477.1H958.21V512.8ZM964.73 512.8V483.5H965.45V512.8ZM965.45 512.8V479.2H966.17V512.8ZM974.86 512.8V485.9H975.58V512.8ZM990.78 512.8V477.1H991.50V512.8ZM992.22 512.8V479.2H992.95V512.8ZM992.95 512.8V480.4H993.67V512.8ZM994.39 512.8V480.4H995.12V512.8ZM996.56 512.8V487.1H997.29V512.8ZM998.73 512.8V477.1H999.46V512.8ZM1000.18 512.8V477.1H1000.91V512.8ZM1001.63 512.8V477.1H1002.35V512.8ZM1008.86 512.8V478.0H1009.59V512.8ZM1017.55 512.8V477.1H1018.27V512.8ZM1020.44 512.8V478.6H1021.17V512.8ZM1028.90 512.8V477.1H1029.40V512.8ZM1029.40 512.8V477.4H1030.13V512.8ZM1046.05 512.8V499.7H1046.77V512.8ZM1053.28 512.8V487.1H1054.01V512.8ZM1054.01 512.8V479.2H1054.73V512.8ZM1054.73 512.8V478.6H1055.45V512.8ZM1055.45 512.8V477.1H1056.18V512.8ZM1056.18 512.8V477.4H1056.90V512.8ZM1061.97 512.8V477.4H1062.69V512.8ZM1062.69 512.8V477.1H1063.41V512.8ZM1063.41 512.8V499.7H1064.14V512.8ZM1064.14 512.8V500.3H1064.86V512.8ZM1066.31 512.8V490.7H1067.03V512.8ZM1073.54 512.8V507.0H1074.27V512.8Z" fill="#468246" fill-opacity="0.76"/>
<path d="M128.41 512.8V490.1H129.37V512.8ZM153.61 512.8V493.1H154.46V512.8ZM156.39 512.8V477.8H157.35V512.8ZM172.55 512.8V507.0H173.39V512.8ZM175.20 512.8V502.1H176.16V512.8ZM183.16 512.8V481.6H184.12V512.8ZM217.41 512.8V505.2H218.37V512.8ZM224.64 512.8V506.4H225.61V512.8ZM253.10 512.8V478.6H253.94V512.8ZM257.32 512.8V479.2H258.17V512.8ZM262.87 512.8V497.9H263.71V512.8ZM277.70 512.8V490.1H278.67V512.8ZM279.63 512.8V487.1H280.48V512.8ZM281.20 512.8V508.2H282.04V512.8ZM290.12 512.8V481.0H290.85V512.8ZM308.09 512.8V477.1H309.06V512.8ZM316.05 512.8V477.8H317.02V512.8ZM327.15 512.8V483.5H327.99V512.8ZM387.08 512.8V488.3H387.92V512.8ZM390.34 512.8V493.1H391.18V512.8ZM400.83 512.8V507.0H401.67V512.8ZM407.58 512.8V484.7H408.43V512.8ZM431.82 512.8V508.8H432.67V512.8ZM450.76 512.8V504.6H451.60V512.8ZM458.47 512.8V502.1H459.20V512.8ZM461.97 512.8V477.1H462.82V512.8ZM469.57 512.8V479.2H470.29V512.8ZM471.02 512.8V484.1H471.74V512.8ZM471.74 512.8V497.3H472.46V512.8ZM477.53 512.8V484.7H478.25V512.8ZM479.70 512.8V484.1H480.42V512.8ZM480.42 512.8V477.1H481.15V512.8ZM486.94 512.8V502.1H487.66V512.8ZM488.38 512.8V477.8H489.11V512.8ZM495.62 512.8V497.3H496.34V512.8ZM513.46 512.8V502.1H514.19V512.8ZM524.07 512.8V477.4H524.80V512.8ZM541.44 512.8V502.8H542.16V512.8ZM576.90 512.8V500.9H577.62V512.8ZM583.41 512.8V484.1H584.13V512.8ZM594.26 512.8V500.9H594.99V512.8ZM597.88 512.8V507.6H598.60V512.8ZM612.35 512.8V496.7H613.08V512.8ZM621.76 512.8V477.4H622.48V512.8ZM631.17 512.8V481.6H631.89V512.8ZM660.59 512.8V505.8H661.31V512.8ZM675.30 512.8V503.4H676.02V512.8ZM676.02 512.8V503.1H676.75V512.8ZM678.19 512.8V501.5H678.92V512.8ZM686.88 512.8V491.3H687.60V512.8ZM693.39 512.8V479.8H694.11V512.8ZM715.10 512.8V493.1H715.82V512.8ZM731.74 512.8V497.3H732.46V512.8ZM733.19 512.8V503.4H733.91V512.8ZM748.86 512.8V506.4H749.59V512.8ZM749.59 512.8V486.5H750.31V512.8ZM760.92 512.8V510.6H761.65V512.8ZM775.63 512.8V496.7H776.36V512.8ZM776.36 512.8V497.3H777.08V512.8ZM777.08 512.8V477.1H777.80V512.8ZM782.87 512.8V481.6H783.59V512.8ZM793.00 512.8V478.0H793.72V512.8ZM794.45 512.8V477.1H795.17V512.8ZM795.89 512.8V484.1H796.62V512.8ZM803.85 512.8V487.7H804.58V512.8ZM811.09 512.8V502.1H811.81V512.8ZM813.98 512.8V481.0H814.71V512.8ZM819.05 512.8V508.2H819.77V512.8ZM822.67 512.8V505.8H823.39V512.8ZM845.82 512.8V487.1H846.54V512.8ZM847.27 512.8V503.4H847.99V512.8ZM855.23 512.8V500.3H855.95V512.8ZM857.40 512.8V479.0H858.12V512.8ZM866.81 512.8V481.0H867.53V512.8ZM868.98 512.8V485.9H869.70V512.8ZM892.85 512.8V507.6H893.58V512.8ZM909.97 512.8V487.7H910.70V512.8ZM918.42 512.8V488.3H919.14V512.8ZM919.14 512.8V487.7H919.86V512.8ZM919.86 512.8V495.5H920.59V512.8ZM920.59 512.8V484.1H921.31V512.8ZM927.82 512.8V498.5H928.55V512.8ZM928.55 512.8V482.3H929.27V512.8ZM930.72 512.8V489.5H931.44V512.8ZM945.19 512.8V477.1H945.91V512.8ZM946.64 512.8V477.1H947.36V512.8ZM955.32 512.8V493.1H956.04V512.8ZM956.04 512.8V478.0H956.77V512.8ZM958.21 512.8V477.4H958.94V512.8ZM975.58 512.8V488.3H976.30V512.8ZM981.37 512.8V504.0H982.09V512.8ZM982.09 512.8V504.6H982.82V512.8ZM993.67 512.8V481.0H994.39V512.8ZM999.46 512.8V477.1H1000.18V512.8ZM1007.42 512.8V477.1H1008.14V512.8ZM1011.04 512.8V484.7H1011.76V512.8ZM1019.00 512.8V478.6H1019.72V512.8ZM1021.17 512.8V479.8H1021.89V512.8ZM1025.51 512.8V488.9H1026.23V512.8ZM1074.27 512.8V506.4H1074.99V512.8Z" fill="#468246" fill-opacity="0.9"/>
<path d="M176.8 494.9V511.79999999999995M180.6 497.3V511.79999999999995M183.7 493.1V511.79999999999995M200.0 506.4V511.79999999999995M217.7 505.2V511.79999999999995M225.1 506.4V511.79999999999995M232.1 499.1V511.79999999999995M252.3 477.8V511.79999999999995M255.5 479.2V511.79999999999995M277.9 490.1V511.79999999999995M297.4 484.1V511.79999999999995M306.2 497.9V511.79999999999995M318.7 477.1V511.79999999999995M329.3 487.1V511.79999999999995M339.7 490.7V511.79999999999995M351.0 486.5V511.79999999999995M357.2 479.2V511.79999999999995M361.2 500.3V511.79999999999995M380.8 487.1V511.79999999999995M399.7 497.9V511.79999999999995M412.5 483.5V511.79999999999995M422.7 478.6V511.79999999999995M437.3 482.3V511.79999999999995M454.9 503.4V511.79999999999995M464.9 495.5V511.79999999999995M493.0 490.1V511.79999999999995M502.5 485.3V511.79999999999995M529.5 482.3V511.79999999999995M546.8 502.1V511.79999999999995M579.3 479.2V511.79999999999995M587.7 477.1V511.79999999999995M627.0 477.1V511.79999999999995M631.1 481.6V511.79999999999995M659.8 506.4V511.79999999999995M667.6 504.0V511.79999999999995M777.0 477.1V511.79999999999995M804.1 487.7V511.79999999999995M812.0 477.8V511.79999999999995M827.2 477.1V511.79999999999995M845.9 487.1V511.79999999999995M849.9 484.1V511.79999999999995M866.7 481.0V511.79999999999995M899.0 487.7V511.79999999999995M908.9 483.5V511.79999999999995M924.6 477.1V511.79999999999995M929.3 487.7V511.79999999999995M951.8 477.1V511.79999999999995M962.7 493.7V511.79999999999995M969.5 492.5V511.79999999999995M985.9 502.1V511.79999999999995M1010.6 485.3V511.79999999999995M1030.2 478.0V511.79999999999995M1060.1 485.9V511.79999999999995M1070.7 487.7V511.79999999999995" stroke="#fff" stroke-opacity="0.15" stroke-width="1" fill="none"/>
<path d="M133.4 479.2V511.79999999999995M152.1 486.2V511.79999999999995M157.2 479.2V511.79999999999995M187.4 496.7V511.79999999999995M206.7 497.9V511.79999999999995M210.3 477.1V511.79999999999995M242.2 479.5V511.79999999999995M267.9 483.5V511.79999999999995M285.3 504.6V511.79999999999995M293.3 487.7V511.79999999999995M300.5 491.9V511.79999999999995M373.4 504.0V511.79999999999995M391.0 493.7V511.79999999999995M468.4 477.1V511.79999999999995M485.4 482.9V511.79999999999995M505.5 497.9V511.79999999999995M563.7 500.3V511.79999999999995M571.2 500.9V511.79999999999995M583.8 484.1V511.79999999999995M608.9 505.2V511.79999999999995M616.4 477.8V511.79999999999995M647.3 477.8V511.79999999999995M672.1 504.6V511.79999999999995M694.8 489.5V511.79999999999995M713.6 483.5V511.79999999999995M737.4 498.5V511.79999999999995M759.6 477.4V511.79999999999995M787.3 504.6V511.79999999999995M796.1 484.1V511.79999999999995M862.0 493.7V511.79999999999995M903.4 497.3V511.79999999999995M912.3 480.4V511.79999999999995M935.6 480.4V511.79999999999995M940.5 506.4V511.79999999999995M955.2 493.1V511.79999999999995M998.0 493.1V511.79999999999995M1017.0 490.1V511.79999999999995M1022.6 492.5V511.79999999999995M1056.6 477.8V511.79999999999995" stroke="#fff" stroke-opacity="0.28" stroke-width="1" fill="none"/>
<path d="M120.0 512.3H1077.1" stroke="#468246" stroke-width="1"/>

<path d="M120.19 531.2H120.78V547.9H120.19ZM121.37 531.2H123.16V547.9H121.37ZM125.98 531.2H129.39V547.9H125.98ZM132.06 531.2H137.55V547.9H132.06ZM139.04 531.2H141.71V547.9H139.04ZM151.65 531.2H152.84V547.9H151.65ZM154.62 531.2H157.89V547.9H154.62ZM158.78 531.2H162.04V547.9H158.78ZM166.94 531.2H170.21V547.9H166.94ZM178.67 531.2H179.85V547.9H178.67ZM181.34 531.2H185.35V547.9H181.34ZM186.98 531.2H188.46V547.9H186.98ZM189.06 531.2H192.62V547.9H189.06ZM203.01 531.2H206.87V547.9H203.01ZM213.99 531.2H215.77V547.9H213.99ZM219.33 531.2H221.12V547.9H219.33ZM230.91 531.2H231.80V547.9H230.91ZM234.03 531.2H236.25V547.9H234.03ZM238.18 531.2H244.86V547.9H238.18ZM248.13 531.2H254.36V547.9H248.13ZM256.14 531.2H262.67V547.9H256.14ZM265.20 531.2H276.63V547.9H265.20ZM279.00 531.2H280.19V547.9H279.00ZM290.58 531.2H298.29V547.9H290.58ZM301.26 531.2H304.97V547.9H301.26ZM307.50 531.2H310.91V547.9H307.50ZM312.84 531.2H314.62V547.9H312.84ZM316.40 531.2H323.53V547.9H316.40ZM327.24 531.2H333.17V547.9H327.24ZM335.40 531.2H340.74V547.9H335.40ZM351.43 531.2H353.21V547.9H351.43ZM357.66 531.2H360.63V547.9H357.66ZM364.19 531.2H370.73V547.9H364.19ZM373.99 531.2H381.41V547.9H373.99ZM384.08 531.2H384.83V547.9H384.08ZM388.54 531.2H390.02V547.9H388.54ZM402.93 531.2H406.35V547.9H402.93ZM407.83 531.2H410.80V547.9H407.83ZM411.39 531.2H416.29V547.9H411.39ZM417.33 531.2H420.00V547.9H417.33ZM421.19 531.2H425.20V547.9H421.19ZM426.98 531.2H429.65V547.9H426.98ZM434.10 531.2H439.00V547.9H434.10ZM459.04 531.2H463.49V547.9H459.04ZM464.97 531.2H471.65V547.9H464.97ZM473.14 531.2H475.36V547.9H473.14ZM477.59 531.2H487.24V547.9H477.59ZM488.28 531.2H491.24V547.9H488.28ZM492.43 531.2H493.92V547.9H492.43ZM501.04 531.2H504.31V547.9H501.04ZM506.98 531.2H507.57V547.9H506.98ZM508.76 531.2H509.65V547.9H508.76ZM522.41 531.2H525.98V547.9H522.41ZM526.87 531.2H530.73V547.9H526.87ZM543.19 531.2H545.27V547.9H543.19ZM547.35 531.2H550.02V547.9H547.35ZM552.10 531.2H554.47V547.9H552.10ZM555.07 531.2H559.22V547.9H555.07ZM562.19 531.2H563.68V547.9H562.19ZM571.99 531.2H575.85V547.9H571.99ZM579.26 531.2H583.71V547.9H579.26ZM584.45 531.2H588.91V547.9H584.45ZM590.09 531.2H593.06V547.9H590.09ZM613.84 531.2H619.78V547.9H613.84ZM621.26 531.2H630.17V547.9H621.26ZM643.97 531.2H649.91V547.9H643.97ZM653.62 531.2H654.81V547.9H653.62ZM674.70 531.2H677.66V547.9H674.70ZM683.60 531.2H687.46V547.9H683.60ZM692.51 531.2H695.47V547.9H692.51ZM708.24 531.2H710.02V547.9H708.24ZM710.32 531.2H715.07V547.9H710.32ZM716.55 531.2H717.74V547.9H716.55ZM735.85 531.2H737.63V547.9H735.85ZM759.00 531.2H761.37V547.9H759.00ZM765.23 531.2H769.39V547.9H765.23ZM772.06 531.2H776.07V547.9H772.06ZM777.11 531.2H778.59V547.9H777.11ZM779.48 531.2H785.42V547.9H779.48ZM788.09 531.2H789.87V547.9H788.09ZM791.65 531.2H810.95V547.9H791.65ZM812.14 531.2H815.70V547.9H812.14ZM824.31 531.2H829.95V547.9H824.31ZM849.54 531.2H854.73V547.9H849.54ZM856.22 531.2H872.54V547.9H856.22ZM895.25 531.2H919.00V547.9H895.25ZM919.19 531.2H925.72V547.9H919.19ZM928.39 531.2H938.48V547.9H928.39ZM943.23 531.2H948.43V547.9H943.23ZM950.95 531.2H953.62V547.9H950.95ZM956.59 531.2H961.04V547.9H956.59ZM964.31 531.2H977.07V547.9H964.31ZM987.17 531.2H1005.87V547.9H987.17ZM1007.94 531.2H1031.10V547.9H1007.94ZM1047.42 531.2H1050.84V547.9H1047.42ZM1054.25 531.2H1057.52V547.9H1054.25ZM1059.00 531.2H1063.75V547.9H1059.00ZM1067.17 531.2H1072.95V547.9H1067.17ZM1075.33 531.2H1077.11V547.9H1075.33Z" fill="#6e0a28"/>
<path d="M120.78 531.2H121.37V547.9H120.78ZM170.95 531.2H175.40V547.9H170.95ZM182.82 531.2H183.71V547.9H182.82ZM208.94 531.2H212.80V547.9H208.94ZM280.19 531.2H281.08V547.9H280.19ZM293.55 531.2H294.44V547.9H293.55ZM334.21 531.2H335.40V547.9H334.21ZM367.46 531.2H368.35V547.9H367.46ZM377.26 531.2H377.85V547.9H377.26ZM379.93 531.2H380.52V547.9H379.93ZM390.02 531.2H391.06V547.9H390.02ZM409.02 531.2H409.91V547.9H409.02ZM469.43 531.2H470.17V547.9H469.43ZM479.82 531.2H480.41V547.9H479.82ZM482.04 531.2H482.64V547.9H482.04ZM505.20 531.2H506.09V547.9H505.20ZM510.24 531.2H510.99V547.9H510.24ZM515.88 531.2H517.96V547.9H515.88ZM559.22 531.2H562.19V547.9H559.22ZM612.06 531.2H613.84V547.9H612.06ZM624.68 531.2H625.42V547.9H624.68ZM629.13 531.2H629.87V547.9H629.13ZM630.17 531.2H634.62V547.9H630.17ZM668.17 531.2H669.95V547.9H668.17ZM672.91 531.2H674.10V547.9H672.91ZM675.88 531.2H676.48V547.9H675.88ZM678.55 531.2H680.04V547.9H678.55ZM702.90 531.2H704.68V547.9H702.90ZM731.99 531.2H733.47V547.9H731.99ZM741.19 531.2H742.67V547.9H741.19ZM750.09 531.2H751.58V547.9H750.09ZM766.72 531.2H767.61V547.9H766.72ZM796.11 531.2H796.70V547.9H796.11ZM800.56 531.2H801.15V547.9H800.56ZM803.53 531.2H804.12V547.9H803.53ZM805.60 531.2H806.20V547.9H805.60ZM807.98 531.2H808.57V547.9H807.98ZM846.27 531.2H847.76V547.9H846.27ZM860.37 531.2H861.12V547.9H860.37ZM864.38 531.2H865.12V547.9H864.38ZM872.54 531.2H873.58V547.9H872.54ZM877.14 531.2H878.04V547.9H877.14ZM891.99 531.2H893.47V547.9H891.99ZM902.97 531.2H903.71V547.9H902.97ZM909.80 531.2H910.54V547.9H909.80ZM936.11 531.2H936.85V547.9H936.11ZM945.61 531.2H946.20V547.9H945.61ZM958.82 531.2H959.41V547.9H958.82ZM963.27 531.2H964.31V547.9H963.27ZM970.69 531.2H971.28V547.9H970.69ZM989.24 531.2H989.99V547.9H989.24ZM993.10 531.2H993.84V547.9H993.10ZM1003.34 531.2H1004.09V547.9H1003.34ZM1015.96 531.2H1016.55V547.9H1015.96ZM1018.93 531.2H1019.52V547.9H1018.93ZM1024.27 531.2H1025.46V547.9H1024.27ZM1031.10 531.2H1032.29V547.9H1031.10ZM1053.36 531.2H1054.25V547.9H1053.36ZM1072.95 531.2H1073.84V547.9H1072.95Z" fill="#ad6b80"/>

<filter id="tf" x="0" y="0" width="1078" height="549" filterUnits="userSpaceOnUse"><feComponentTransfer><feFuncA type="gamma" amplitude="1" exponent="1.05" offset="0"/></feComponentTransfer></filter>
<g filter="url(#tf)" style="text-rendering:geometricPrecision">
<text x="117.5" y="17.05" fill="#000" text-anchor="end" textLength="34.3" lengthAdjust="spacingAndGlyphs">Scale</text>
<text x="117.5" y="35.9" fill="#000" text-anchor="end" textLength="39" lengthAdjust="spacingAndGlyphs">chr3L:</text>
<text x="380.9" y="15.75" fill="#000" text-anchor="end" textLength="33.4" lengthAdjust="spacingAndGlyphs">10 kb</text>
<text x="823.6" y="12.75" fill="#000" text-anchor="start" textLength="26.8" lengthAdjust="spacingAndGlyphs">dm3</text>
<text x="211.0" y="35.75" fill="#000" text-anchor="end" textLength="68.6" lengthAdjust="spacingAndGlyphs">13,230,000</text>
<text x="427.3" y="35.75" fill="#000" text-anchor="end" textLength="68.6" lengthAdjust="spacingAndGlyphs">13,235,000</text>
<text x="643.7" y="35.75" fill="#000" text-anchor="end" textLength="68.6" lengthAdjust="spacingAndGlyphs">13,240,000</text>
<text x="860.1" y="35.75" fill="#000" text-anchor="end" textLength="68.6" lengthAdjust="spacingAndGlyphs">13,245,000</text>
<text x="1076.8" y="35.75" fill="#000" text-anchor="end" textLength="68.6" lengthAdjust="spacingAndGlyphs">13,250,000</text>
<text x="434" y="53.5" fill="#000" text-anchor="start" textLength="330.5" lengthAdjust="spacingAndGlyphs">Embryonic enhancers (http://enhancers.starklab.org/)</text>
<text x="493.3" y="69.7" fill="#336699" text-anchor="start" textLength="55" lengthAdjust="spacingAndGlyphs">VT30091</text>
<text x="501.9" y="88.7" fill="#0064b4" text-anchor="start" textLength="194" lengthAdjust="spacingAndGlyphs">FlyBase Protein-Coding Genes</text>
<text x="117.6" y="104.4" fill="#0064b4" text-anchor="end" textLength="28.8" lengthAdjust="spacingAndGlyphs">caps</text>
<text x="117.6" y="122.5" fill="#0064b4" text-anchor="end" textLength="28.8" lengthAdjust="spacingAndGlyphs">caps</text>
<text x="117.6" y="140.6" fill="#0064b4" text-anchor="end" textLength="28.8" lengthAdjust="spacingAndGlyphs">caps</text>
<text x="577.8" y="158.6" fill="#0064b4" text-anchor="start" textLength="60.8" lengthAdjust="spacingAndGlyphs">CG32119</text>
<text x="516" y="177.7" fill="#1e82d2" text-anchor="start" textLength="166" lengthAdjust="spacingAndGlyphs">FlyBase Noncoding Genes</text>
<text x="646.9" y="194.7" fill="#1e82d2" text-anchor="start" textLength="107" lengthAdjust="spacingAndGlyphs">tRNA:D2:69F-RA</text>
<text x="599.3" y="212.8" fill="#2ca02c" text-anchor="middle" textLength="382.5" lengthAdjust="spacingAndGlyphs">BDTNP Chromatin Accessibility (DNase) Stage 5, Replicate 2</text>
<text x="599.3" y="247.8" fill="#f97c1c" text-anchor="middle" textLength="382.5" lengthAdjust="spacingAndGlyphs">BDTNP Chromatin Accessibility (DNase) Stage 9, Replicate 2</text>
<text x="599.3" y="282.8" fill="#8c1a26" text-anchor="middle" textLength="390.5" lengthAdjust="spacingAndGlyphs">BDTNP Chromatin Accessibility (DNase) Stage 10, Replicate 2</text>
<text x="599.3" y="317.8" fill="#3aa8d2" text-anchor="middle" textLength="390.5" lengthAdjust="spacingAndGlyphs">BDTNP Chromatin Accessibility (DNase) Stage 11, Replicate 2</text>
<text x="599.3" y="352.8" fill="#6a32a0" text-anchor="middle" textLength="390.5" lengthAdjust="spacingAndGlyphs">BDTNP Chromatin Accessibility (DNase) Stage 14, Replicate 2</text>
<text x="360.2" y="388.6" fill="#000a64" text-anchor="start" textLength="478" lengthAdjust="spacingAndGlyphs">12 Flies, Mosquito, Honeybee, Beetle Multiz Alignments &amp; phastCons Scores</text>
<text x="482.3" y="473.5" fill="#468246" text-anchor="start" textLength="234.5" lengthAdjust="spacingAndGlyphs">15 Insect Conservation by PhastCons</text>
<text x="-0.4" y="487.8" fill="#468246" text-anchor="start" textLength="93.2" lengthAdjust="spacingAndGlyphs">15 Insect Cons</text>
<text x="99.6" y="473.6" fill="#468246" text-anchor="start">1</text>
<text x="98.9" y="510.0" fill="#468246" text-anchor="start">0</text>
<text x="360.2" y="527.65" fill="#000" text-anchor="start" textLength="478" lengthAdjust="spacingAndGlyphs">12 Flies, Mosquito, Honeybee, Beetle Multiz Alignments &amp; phastCons Scores</text>
<text x="117.6" y="544.8" fill="#6e0a28" text-anchor="end" textLength="72.4" lengthAdjust="spacingAndGlyphs">15 Insect El</text>
</g>
</svg>
</body></html>
